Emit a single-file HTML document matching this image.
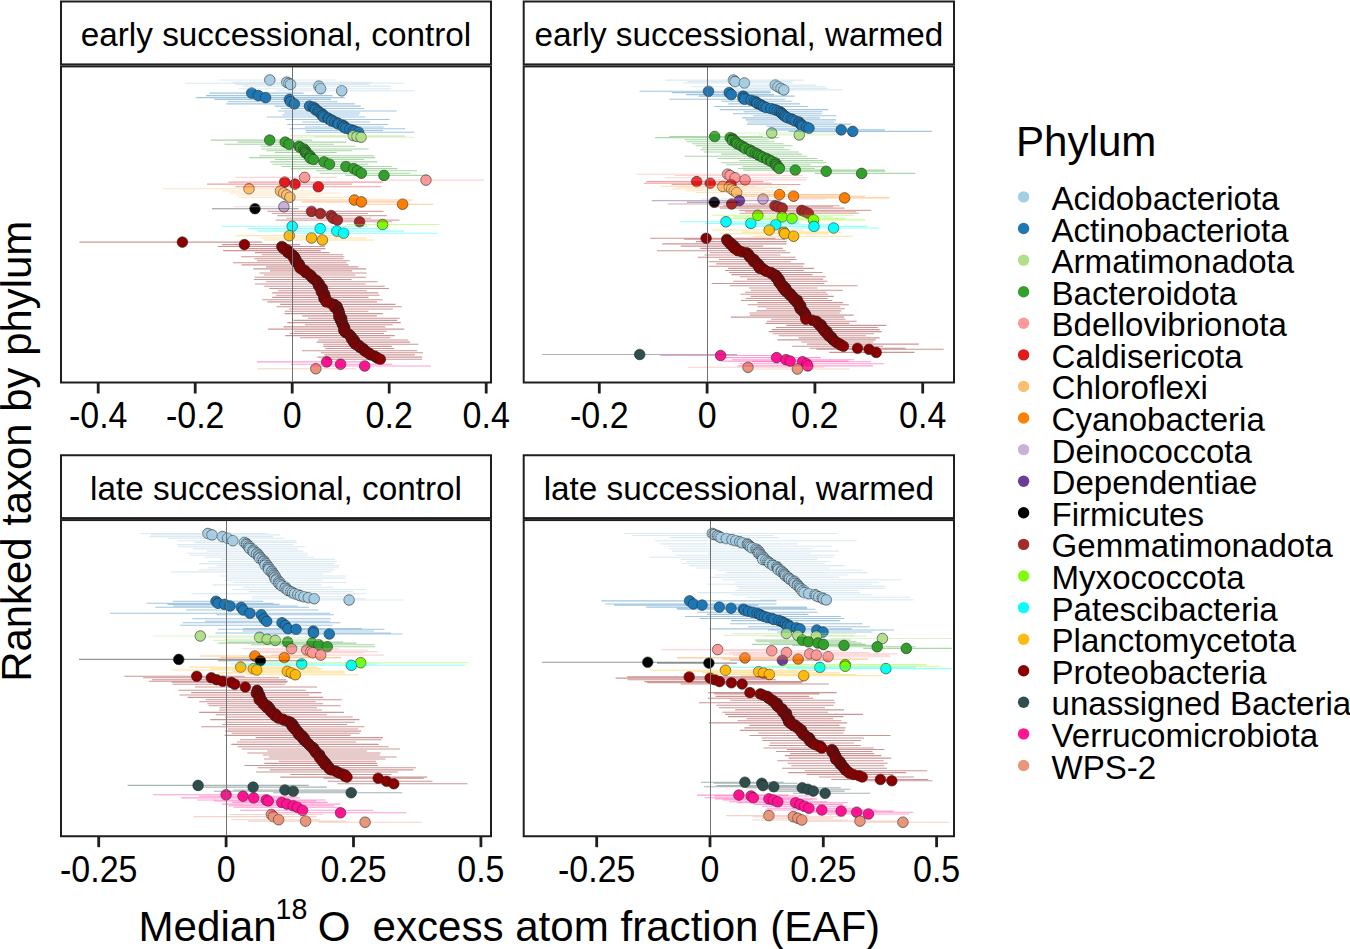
<!DOCTYPE html>
<html><head><meta charset="utf-8"><style>
html,body{margin:0;padding:0;background:#fff;width:1350px;height:949px;overflow:hidden}
svg{display:block}
text{font-family:"Liberation Sans",sans-serif;fill:#000}
.st{font-size:33.3px;text-anchor:middle}
.tk{font-size:34px;text-anchor:middle}
.lg{font-size:33.1px}
.ti{font-size:41.9px;text-anchor:middle}
.ts{font-size:42.1px}
.sup{font-size:28.6px}
</style></head><body>
<svg width="1350" height="949" viewBox="0 0 1350 949">
<defs><clipPath id="c1"><rect x="62" y="67" width="428" height="314.5"/></clipPath><clipPath id="c2"><rect x="524.7" y="67" width="428.29999999999995" height="314.5"/></clipPath><clipPath id="c3"><rect x="62" y="520.9" width="428" height="314.35"/></clipPath><clipPath id="c4"><rect x="524.7" y="520.9" width="428.29999999999995" height="314.35"/></clipPath></defs>
<rect width="1350" height="949" fill="#fff"/>
<g clip-path="url(#c1)"><g stroke="#222" stroke-width="0.6"><circle cx="269.8" cy="80.0" r="5.3" fill="#A6CEE3"/><circle cx="286.7" cy="82.2" r="5.3" fill="#A6CEE3"/><circle cx="288.9" cy="83.3" r="5.3" fill="#A6CEE3"/><circle cx="290.6" cy="84.4" r="5.3" fill="#A6CEE3"/><circle cx="318.9" cy="86.1" r="5.3" fill="#A6CEE3"/><circle cx="320.6" cy="88.7" r="5.3" fill="#A6CEE3"/><circle cx="341.7" cy="90.8" r="5.3" fill="#A6CEE3"/><circle cx="251.7" cy="93.1" r="5.3" fill="#1F78B4"/><circle cx="258.3" cy="95.6" r="5.3" fill="#1F78B4"/><circle cx="265.6" cy="97.6" r="5.3" fill="#1F78B4"/><circle cx="289.4" cy="99.4" r="5.3" fill="#1F78B4"/><circle cx="290.6" cy="101.7" r="5.3" fill="#1F78B4"/><circle cx="294.4" cy="103.9" r="5.3" fill="#1F78B4"/><circle cx="309.5" cy="106.1" r="5.3" fill="#1F78B4"/><circle cx="313.5" cy="107.3" r="5.3" fill="#1F78B4"/><circle cx="315.1" cy="108.5" r="5.3" fill="#1F78B4"/><circle cx="315.4" cy="109.8" r="5.3" fill="#1F78B4"/><circle cx="318.0" cy="111.0" r="5.3" fill="#1F78B4"/><circle cx="319.2" cy="112.2" r="5.3" fill="#1F78B4"/><circle cx="321.3" cy="113.4" r="5.3" fill="#1F78B4"/><circle cx="323.1" cy="114.6" r="5.3" fill="#1F78B4"/><circle cx="322.4" cy="115.8" r="5.3" fill="#1F78B4"/><circle cx="323.6" cy="117.0" r="5.3" fill="#1F78B4"/><circle cx="328.0" cy="118.0" r="5.3" fill="#1F78B4"/><circle cx="328.8" cy="119.0" r="5.3" fill="#1F78B4"/><circle cx="331.8" cy="120.0" r="5.3" fill="#1F78B4"/><circle cx="331.5" cy="121.0" r="5.3" fill="#1F78B4"/><circle cx="334.8" cy="122.0" r="5.3" fill="#1F78B4"/><circle cx="337.7" cy="123.0" r="5.3" fill="#1F78B4"/><circle cx="338.2" cy="124.0" r="5.3" fill="#1F78B4"/><circle cx="342.3" cy="125.0" r="5.3" fill="#1F78B4"/><circle cx="344.2" cy="126.0" r="5.3" fill="#1F78B4"/><circle cx="343.6" cy="127.0" r="5.3" fill="#1F78B4"/><circle cx="345.9" cy="128.2" r="5.3" fill="#1F78B4"/><circle cx="349.8" cy="129.3" r="5.3" fill="#1F78B4"/><circle cx="353.3" cy="130.5" r="5.3" fill="#1F78B4"/><circle cx="355.3" cy="131.3" r="5.3" fill="#1F78B4"/><circle cx="358.5" cy="132.2" r="5.3" fill="#1F78B4"/><circle cx="353.3" cy="135.6" r="5.3" fill="#B2DF8A"/><circle cx="357.0" cy="136.5" r="5.3" fill="#B2DF8A"/><circle cx="361.1" cy="137.2" r="5.3" fill="#B2DF8A"/><circle cx="269.7" cy="140.1" r="5.3" fill="#33A02C"/><circle cx="285.2" cy="142.1" r="5.3" fill="#33A02C"/><circle cx="289.1" cy="144.3" r="5.3" fill="#33A02C"/><circle cx="299.0" cy="146.3" r="5.3" fill="#33A02C"/><circle cx="300.5" cy="147.7" r="5.3" fill="#33A02C"/><circle cx="303.8" cy="149.0" r="5.3" fill="#33A02C"/><circle cx="304.9" cy="150.2" r="5.3" fill="#33A02C"/><circle cx="305.7" cy="151.3" r="5.3" fill="#33A02C"/><circle cx="305.4" cy="152.5" r="5.3" fill="#33A02C"/><circle cx="306.7" cy="153.6" r="5.3" fill="#33A02C"/><circle cx="308.0" cy="154.6" r="5.3" fill="#33A02C"/><circle cx="310.0" cy="155.7" r="5.3" fill="#33A02C"/><circle cx="310.2" cy="157.0" r="5.3" fill="#33A02C"/><circle cx="310.2" cy="158.2" r="5.3" fill="#33A02C"/><circle cx="313.4" cy="159.5" r="5.3" fill="#33A02C"/><circle cx="324.1" cy="161.9" r="5.3" fill="#33A02C"/><circle cx="329.5" cy="164.2" r="5.3" fill="#33A02C"/><circle cx="345.9" cy="166.5" r="5.3" fill="#33A02C"/><circle cx="353.6" cy="168.6" r="5.3" fill="#33A02C"/><circle cx="357.5" cy="170.7" r="5.3" fill="#33A02C"/><circle cx="361.4" cy="173.2" r="5.3" fill="#33A02C"/><circle cx="384.0" cy="175.4" r="5.3" fill="#33A02C"/><circle cx="304.6" cy="177.4" r="5.3" fill="#FB9A99"/><circle cx="426.0" cy="180.1" r="5.3" fill="#FB9A99"/><circle cx="284.7" cy="182.1" r="5.3" fill="#E31A1C"/><circle cx="295.0" cy="184.1" r="5.3" fill="#E31A1C"/><circle cx="318.3" cy="186.8" r="5.3" fill="#E31A1C"/><circle cx="249.0" cy="188.8" r="5.3" fill="#FDBF6F"/><circle cx="280.5" cy="191.0" r="5.3" fill="#FDBF6F"/><circle cx="283.7" cy="193.0" r="5.3" fill="#FDBF6F"/><circle cx="286.8" cy="195.0" r="5.3" fill="#FDBF6F"/><circle cx="289.9" cy="197.2" r="5.3" fill="#FDBF6F"/><circle cx="354.4" cy="200.0" r="5.3" fill="#FF7F00"/><circle cx="361.4" cy="201.9" r="5.3" fill="#FF7F00"/><circle cx="402.6" cy="204.2" r="5.3" fill="#FF7F00"/><circle cx="283.9" cy="206.8" r="5.3" fill="#CAB2D6"/><circle cx="255.0" cy="208.7" r="5.3" fill="#000000"/><circle cx="311.5" cy="211.4" r="5.3" fill="#A52A2A"/><circle cx="320.4" cy="213.5" r="5.3" fill="#A52A2A"/><circle cx="331.2" cy="215.6" r="5.3" fill="#A52A2A"/><circle cx="333.2" cy="218.3" r="5.3" fill="#A52A2A"/><circle cx="337.4" cy="220.1" r="5.3" fill="#A52A2A"/><circle cx="359.6" cy="221.8" r="5.3" fill="#A52A2A"/><circle cx="382.6" cy="224.5" r="5.3" fill="#7FFF00"/><circle cx="292.2" cy="226.3" r="5.3" fill="#00FFFF"/><circle cx="320.2" cy="228.6" r="5.3" fill="#00FFFF"/><circle cx="336.8" cy="231.1" r="5.3" fill="#00FFFF"/><circle cx="343.6" cy="233.2" r="5.3" fill="#00FFFF"/><circle cx="289.3" cy="235.7" r="5.3" fill="#FFB90F"/><circle cx="311.5" cy="238.0" r="5.3" fill="#FFB90F"/><circle cx="322.4" cy="240.0" r="5.3" fill="#FFB90F"/><circle cx="182.4" cy="242.1" r="5.3" fill="#8B0000"/><circle cx="244.4" cy="244.6" r="5.3" fill="#8B0000"/><circle cx="281.8" cy="246.5" r="5.3" fill="#8B0000"/><circle cx="283.5" cy="247.7" r="5.3" fill="#8B0000"/><circle cx="283.5" cy="248.8" r="5.3" fill="#8B0000"/><circle cx="287.4" cy="250.0" r="5.3" fill="#8B0000"/><circle cx="288.5" cy="251.2" r="5.3" fill="#8B0000"/><circle cx="287.7" cy="252.4" r="5.3" fill="#8B0000"/><circle cx="289.8" cy="253.5" r="5.3" fill="#8B0000"/><circle cx="292.4" cy="254.7" r="5.3" fill="#8B0000"/><circle cx="293.1" cy="255.8" r="5.3" fill="#8B0000"/><circle cx="294.5" cy="256.9" r="5.3" fill="#8B0000"/><circle cx="293.7" cy="258.0" r="5.3" fill="#8B0000"/><circle cx="295.7" cy="259.1" r="5.3" fill="#8B0000"/><circle cx="295.9" cy="260.2" r="5.3" fill="#8B0000"/><circle cx="295.6" cy="261.4" r="5.3" fill="#8B0000"/><circle cx="297.2" cy="262.5" r="5.3" fill="#8B0000"/><circle cx="298.8" cy="263.6" r="5.3" fill="#8B0000"/><circle cx="299.4" cy="264.7" r="5.3" fill="#8B0000"/><circle cx="299.2" cy="265.8" r="5.3" fill="#8B0000"/><circle cx="300.2" cy="266.9" r="5.3" fill="#8B0000"/><circle cx="299.9" cy="268.1" r="5.3" fill="#8B0000"/><circle cx="301.9" cy="269.2" r="5.3" fill="#8B0000"/><circle cx="304.9" cy="270.4" r="5.3" fill="#8B0000"/><circle cx="305.2" cy="271.5" r="5.3" fill="#8B0000"/><circle cx="305.8" cy="272.7" r="5.3" fill="#8B0000"/><circle cx="308.4" cy="273.8" r="5.3" fill="#8B0000"/><circle cx="310.2" cy="275.0" r="5.3" fill="#8B0000"/><circle cx="311.3" cy="276.1" r="5.3" fill="#8B0000"/><circle cx="311.7" cy="277.2" r="5.3" fill="#8B0000"/><circle cx="313.1" cy="278.4" r="5.3" fill="#8B0000"/><circle cx="314.5" cy="279.5" r="5.3" fill="#8B0000"/><circle cx="316.6" cy="280.6" r="5.3" fill="#8B0000"/><circle cx="317.0" cy="281.8" r="5.3" fill="#8B0000"/><circle cx="317.9" cy="282.9" r="5.3" fill="#8B0000"/><circle cx="319.4" cy="284.0" r="5.3" fill="#8B0000"/><circle cx="318.4" cy="285.1" r="5.3" fill="#8B0000"/><circle cx="318.8" cy="286.2" r="5.3" fill="#8B0000"/><circle cx="321.2" cy="287.4" r="5.3" fill="#8B0000"/><circle cx="322.5" cy="288.5" r="5.3" fill="#8B0000"/><circle cx="321.7" cy="289.6" r="5.3" fill="#8B0000"/><circle cx="321.5" cy="290.7" r="5.3" fill="#8B0000"/><circle cx="321.3" cy="291.8" r="5.3" fill="#8B0000"/><circle cx="322.7" cy="292.9" r="5.3" fill="#8B0000"/><circle cx="324.5" cy="294.1" r="5.3" fill="#8B0000"/><circle cx="324.3" cy="295.2" r="5.3" fill="#8B0000"/><circle cx="324.0" cy="296.3" r="5.3" fill="#8B0000"/><circle cx="325.4" cy="297.4" r="5.3" fill="#8B0000"/><circle cx="323.9" cy="298.5" r="5.3" fill="#8B0000"/><circle cx="325.1" cy="299.7" r="5.3" fill="#8B0000"/><circle cx="326.9" cy="300.8" r="5.3" fill="#8B0000"/><circle cx="326.1" cy="301.9" r="5.3" fill="#8B0000"/><circle cx="330.3" cy="303.1" r="5.3" fill="#8B0000"/><circle cx="334.2" cy="304.4" r="5.3" fill="#8B0000"/><circle cx="335.5" cy="305.5" r="5.3" fill="#8B0000"/><circle cx="337.1" cy="306.5" r="5.3" fill="#8B0000"/><circle cx="334.7" cy="307.6" r="5.3" fill="#8B0000"/><circle cx="337.5" cy="308.6" r="5.3" fill="#8B0000"/><circle cx="338.1" cy="309.7" r="5.3" fill="#8B0000"/><circle cx="338.7" cy="310.8" r="5.3" fill="#8B0000"/><circle cx="338.7" cy="311.8" r="5.3" fill="#8B0000"/><circle cx="339.3" cy="312.9" r="5.3" fill="#8B0000"/><circle cx="338.9" cy="314.0" r="5.3" fill="#8B0000"/><circle cx="339.5" cy="315.0" r="5.3" fill="#8B0000"/><circle cx="339.5" cy="316.1" r="5.3" fill="#8B0000"/><circle cx="338.8" cy="317.1" r="5.3" fill="#8B0000"/><circle cx="341.7" cy="318.2" r="5.3" fill="#8B0000"/><circle cx="341.2" cy="319.3" r="5.3" fill="#8B0000"/><circle cx="340.5" cy="320.4" r="5.3" fill="#8B0000"/><circle cx="341.8" cy="321.5" r="5.3" fill="#8B0000"/><circle cx="342.2" cy="322.6" r="5.3" fill="#8B0000"/><circle cx="342.2" cy="323.7" r="5.3" fill="#8B0000"/><circle cx="342.6" cy="324.8" r="5.3" fill="#8B0000"/><circle cx="343.6" cy="325.8" r="5.3" fill="#8B0000"/><circle cx="344.2" cy="326.9" r="5.3" fill="#8B0000"/><circle cx="344.6" cy="328.0" r="5.3" fill="#8B0000"/><circle cx="344.6" cy="329.1" r="5.3" fill="#8B0000"/><circle cx="343.7" cy="330.2" r="5.3" fill="#8B0000"/><circle cx="344.7" cy="331.3" r="5.3" fill="#8B0000"/><circle cx="345.5" cy="332.4" r="5.3" fill="#8B0000"/><circle cx="347.7" cy="333.5" r="5.3" fill="#8B0000"/><circle cx="349.4" cy="334.6" r="5.3" fill="#8B0000"/><circle cx="350.2" cy="335.6" r="5.3" fill="#8B0000"/><circle cx="351.1" cy="336.7" r="5.3" fill="#8B0000"/><circle cx="352.1" cy="337.8" r="5.3" fill="#8B0000"/><circle cx="351.4" cy="338.9" r="5.3" fill="#8B0000"/><circle cx="354.1" cy="340.0" r="5.3" fill="#8B0000"/><circle cx="354.6" cy="341.1" r="5.3" fill="#8B0000"/><circle cx="353.7" cy="342.1" r="5.3" fill="#8B0000"/><circle cx="354.5" cy="343.2" r="5.3" fill="#8B0000"/><circle cx="355.4" cy="344.3" r="5.3" fill="#8B0000"/><circle cx="359.1" cy="345.4" r="5.3" fill="#8B0000"/><circle cx="359.1" cy="346.4" r="5.3" fill="#8B0000"/><circle cx="360.1" cy="347.5" r="5.3" fill="#8B0000"/><circle cx="363.2" cy="348.5" r="5.3" fill="#8B0000"/><circle cx="363.8" cy="349.6" r="5.3" fill="#8B0000"/><circle cx="364.4" cy="350.7" r="5.3" fill="#8B0000"/><circle cx="366.2" cy="351.7" r="5.3" fill="#8B0000"/><circle cx="368.7" cy="352.8" r="5.3" fill="#8B0000"/><circle cx="369.1" cy="353.8" r="5.3" fill="#8B0000"/><circle cx="370.9" cy="354.9" r="5.3" fill="#8B0000"/><circle cx="374.5" cy="356.0" r="5.3" fill="#8B0000"/><circle cx="375.9" cy="357.1" r="5.3" fill="#8B0000"/><circle cx="377.7" cy="358.2" r="5.3" fill="#8B0000"/><circle cx="380.4" cy="359.3" r="5.3" fill="#8B0000"/><circle cx="326.7" cy="361.9" r="5.3" fill="#FF1493"/><circle cx="340.6" cy="364.2" r="5.3" fill="#FF1493"/><circle cx="364.7" cy="366.0" r="5.3" fill="#FF1493"/><circle cx="315.8" cy="368.7" r="5.3" fill="#E9967A"/></g><g stroke-width="1.1" stroke-opacity="0.42"><line x1="218.9" y1="80.0" x2="335.3" y2="80.0" stroke="#A6CEE3"/><line x1="232.3" y1="82.2" x2="372.7" y2="82.2" stroke="#A6CEE3"/><line x1="185.0" y1="83.3" x2="404.7" y2="83.3" stroke="#A6CEE3"/><line x1="234.7" y1="84.4" x2="369.4" y2="84.4" stroke="#A6CEE3"/><line x1="241.8" y1="86.1" x2="390.7" y2="86.1" stroke="#A6CEE3"/><line x1="238.7" y1="88.7" x2="391.3" y2="88.7" stroke="#A6CEE3"/><line x1="275.9" y1="90.8" x2="414.7" y2="90.8" stroke="#A6CEE3"/><line x1="209.3" y1="93.1" x2="303.6" y2="93.1" stroke="#1F78B4"/><line x1="206.0" y1="95.6" x2="332.6" y2="95.6" stroke="#1F78B4"/><line x1="195.8" y1="97.6" x2="344.9" y2="97.6" stroke="#1F78B4"/><line x1="214.3" y1="99.4" x2="330.9" y2="99.4" stroke="#1F78B4"/><line x1="227.8" y1="101.7" x2="337.5" y2="101.7" stroke="#1F78B4"/><line x1="226.2" y1="103.9" x2="354.8" y2="103.9" stroke="#1F78B4"/><line x1="274.4" y1="106.1" x2="360.8" y2="106.1" stroke="#1F78B4"/><line x1="281.2" y1="108.5" x2="364.3" y2="108.5" stroke="#1F78B4"/><line x1="278.2" y1="111.0" x2="396.6" y2="111.0" stroke="#1F78B4"/><line x1="284.3" y1="113.0" x2="360.2" y2="113.0" stroke="#1F78B4"/><line x1="282.5" y1="115.0" x2="359.1" y2="115.0" stroke="#1F78B4"/><line x1="267.0" y1="117.0" x2="365.3" y2="117.0" stroke="#1F78B4"/><line x1="285.5" y1="119.5" x2="389.6" y2="119.5" stroke="#1F78B4"/><line x1="302.5" y1="122.0" x2="370.1" y2="122.0" stroke="#1F78B4"/><line x1="287.2" y1="124.5" x2="388.0" y2="124.5" stroke="#1F78B4"/><line x1="304.8" y1="127.0" x2="383.7" y2="127.0" stroke="#1F78B4"/><line x1="289.9" y1="128.8" x2="405.1" y2="128.8" stroke="#1F78B4"/><line x1="305.6" y1="130.5" x2="383.2" y2="130.5" stroke="#1F78B4"/><line x1="305.8" y1="132.2" x2="414.3" y2="132.2" stroke="#1F78B4"/><line x1="289.8" y1="135.6" x2="404.6" y2="135.6" stroke="#B2DF8A"/><line x1="314.5" y1="136.5" x2="405.0" y2="136.5" stroke="#B2DF8A"/><line x1="293.3" y1="137.2" x2="414.8" y2="137.2" stroke="#B2DF8A"/><line x1="210.7" y1="140.1" x2="312.3" y2="140.1" stroke="#33A02C"/><line x1="237.6" y1="142.1" x2="346.2" y2="142.1" stroke="#33A02C"/><line x1="224.5" y1="144.3" x2="333.8" y2="144.3" stroke="#33A02C"/><line x1="260.8" y1="146.3" x2="355.2" y2="146.3" stroke="#33A02C"/><line x1="261.4" y1="149.0" x2="368.6" y2="149.0" stroke="#33A02C"/><line x1="266.5" y1="150.8" x2="352.1" y2="150.8" stroke="#33A02C"/><line x1="274.8" y1="152.5" x2="336.6" y2="152.5" stroke="#33A02C"/><line x1="259.2" y1="155.7" x2="374.1" y2="155.7" stroke="#33A02C"/><line x1="249.3" y1="157.6" x2="375.2" y2="157.6" stroke="#33A02C"/><line x1="274.9" y1="159.5" x2="364.0" y2="159.5" stroke="#33A02C"/><line x1="270.0" y1="161.9" x2="377.3" y2="161.9" stroke="#33A02C"/><line x1="272.4" y1="164.2" x2="368.1" y2="164.2" stroke="#33A02C"/><line x1="281.5" y1="166.5" x2="391.6" y2="166.5" stroke="#33A02C"/><line x1="290.7" y1="168.6" x2="397.3" y2="168.6" stroke="#33A02C"/><line x1="316.4" y1="170.7" x2="417.1" y2="170.7" stroke="#33A02C"/><line x1="319.7" y1="173.2" x2="410.4" y2="173.2" stroke="#33A02C"/><line x1="345.4" y1="175.4" x2="427.0" y2="175.4" stroke="#33A02C"/><line x1="235.6" y1="177.4" x2="337.1" y2="177.4" stroke="#FB9A99"/><line x1="385.8" y1="180.1" x2="483.7" y2="180.1" stroke="#FB9A99"/><line x1="228.5" y1="182.1" x2="382.8" y2="182.1" stroke="#E31A1C"/><line x1="207.0" y1="184.1" x2="351.9" y2="184.1" stroke="#E31A1C"/><line x1="235.4" y1="186.8" x2="381.1" y2="186.8" stroke="#E31A1C"/><line x1="163.0" y1="188.8" x2="300.0" y2="188.8" stroke="#FDBF6F"/><line x1="223.2" y1="191.0" x2="311.5" y2="191.0" stroke="#FDBF6F"/><line x1="229.6" y1="193.0" x2="340.9" y2="193.0" stroke="#FDBF6F"/><line x1="236.1" y1="195.0" x2="322.1" y2="195.0" stroke="#FDBF6F"/><line x1="238.5" y1="197.2" x2="359.9" y2="197.2" stroke="#FDBF6F"/><line x1="290.7" y1="200.0" x2="412.7" y2="200.0" stroke="#FF7F00"/><line x1="301.6" y1="201.9" x2="407.3" y2="201.9" stroke="#FF7F00"/><line x1="363.6" y1="204.2" x2="433.5" y2="204.2" stroke="#FF7F00"/><line x1="233.9" y1="206.8" x2="316.1" y2="206.8" stroke="#CAB2D6"/><line x1="212.0" y1="208.7" x2="298.6" y2="208.7" stroke="#000000"/><line x1="267.5" y1="211.4" x2="383.5" y2="211.4" stroke="#A52A2A"/><line x1="271.9" y1="213.5" x2="367.9" y2="213.5" stroke="#A52A2A"/><line x1="277.2" y1="215.6" x2="386.8" y2="215.6" stroke="#A52A2A"/><line x1="286.4" y1="218.3" x2="371.1" y2="218.3" stroke="#A52A2A"/><line x1="275.7" y1="220.1" x2="399.5" y2="220.1" stroke="#A52A2A"/><line x1="327.9" y1="221.8" x2="392.1" y2="221.8" stroke="#A52A2A"/><line x1="347.0" y1="224.5" x2="439.4" y2="224.5" stroke="#7FFF00"/><line x1="221.4" y1="226.3" x2="367.7" y2="226.3" stroke="#00FFFF"/><line x1="248.1" y1="228.6" x2="388.0" y2="228.6" stroke="#00FFFF"/><line x1="258.0" y1="231.1" x2="403.9" y2="231.1" stroke="#00FFFF"/><line x1="287.1" y1="233.2" x2="437.5" y2="233.2" stroke="#00FFFF"/><line x1="235.4" y1="235.7" x2="344.4" y2="235.7" stroke="#FFB90F"/><line x1="261.4" y1="238.0" x2="367.0" y2="238.0" stroke="#FFB90F"/><line x1="264.1" y1="240.0" x2="374.4" y2="240.0" stroke="#FFB90F"/><line x1="79.5" y1="242.1" x2="262.0" y2="242.1" stroke="#8B0000"/><line x1="222.0" y1="244.6" x2="300.0" y2="244.6" stroke="#8B0000"/><line x1="217.6" y1="246.5" x2="325.0" y2="246.5" stroke="#8B0000"/><line x1="248.4" y1="248.6" x2="325.5" y2="248.6" stroke="#8B0000"/><line x1="223.1" y1="250.6" x2="320.8" y2="250.6" stroke="#8B0000"/><line x1="255.0" y1="252.6" x2="329.5" y2="252.6" stroke="#8B0000"/><line x1="261.6" y1="254.7" x2="343.0" y2="254.7" stroke="#8B0000"/><line x1="241.1" y1="256.7" x2="344.3" y2="256.7" stroke="#8B0000"/><line x1="254.5" y1="258.8" x2="343.4" y2="258.8" stroke="#8B0000"/><line x1="257.0" y1="260.8" x2="349.7" y2="260.8" stroke="#8B0000"/><line x1="233.1" y1="262.8" x2="346.3" y2="262.8" stroke="#8B0000"/><line x1="241.6" y1="264.9" x2="348.5" y2="264.9" stroke="#8B0000"/><line x1="266.1" y1="266.9" x2="358.2" y2="266.9" stroke="#8B0000"/><line x1="253.2" y1="268.9" x2="366.1" y2="268.9" stroke="#8B0000"/><line x1="270.0" y1="270.9" x2="352.3" y2="270.9" stroke="#8B0000"/><line x1="259.6" y1="273.0" x2="366.7" y2="273.0" stroke="#8B0000"/><line x1="264.1" y1="275.0" x2="355.3" y2="275.0" stroke="#8B0000"/><line x1="254.6" y1="277.2" x2="366.0" y2="277.2" stroke="#8B0000"/><line x1="254.0" y1="279.5" x2="351.6" y2="279.5" stroke="#8B0000"/><line x1="266.0" y1="281.8" x2="377.8" y2="281.8" stroke="#8B0000"/><line x1="254.9" y1="284.0" x2="365.6" y2="284.0" stroke="#8B0000"/><line x1="264.2" y1="286.2" x2="384.8" y2="286.2" stroke="#8B0000"/><line x1="269.3" y1="288.5" x2="389.0" y2="288.5" stroke="#8B0000"/><line x1="278.2" y1="290.7" x2="366.7" y2="290.7" stroke="#8B0000"/><line x1="272.2" y1="292.9" x2="378.3" y2="292.9" stroke="#8B0000"/><line x1="276.2" y1="295.2" x2="379.6" y2="295.2" stroke="#8B0000"/><line x1="272.2" y1="297.4" x2="368.5" y2="297.4" stroke="#8B0000"/><line x1="262.3" y1="299.7" x2="382.5" y2="299.7" stroke="#8B0000"/><line x1="267.4" y1="301.9" x2="377.1" y2="301.9" stroke="#8B0000"/><line x1="280.1" y1="304.4" x2="395.5" y2="304.4" stroke="#8B0000"/><line x1="276.7" y1="306.7" x2="401.6" y2="306.7" stroke="#8B0000"/><line x1="288.9" y1="309.0" x2="392.9" y2="309.0" stroke="#8B0000"/><line x1="284.8" y1="311.3" x2="368.4" y2="311.3" stroke="#8B0000"/><line x1="284.5" y1="313.6" x2="382.8" y2="313.6" stroke="#8B0000"/><line x1="302.3" y1="315.9" x2="376.9" y2="315.9" stroke="#8B0000"/><line x1="308.0" y1="318.2" x2="399.7" y2="318.2" stroke="#8B0000"/><line x1="293.5" y1="320.4" x2="397.2" y2="320.4" stroke="#8B0000"/><line x1="287.3" y1="322.6" x2="400.8" y2="322.6" stroke="#8B0000"/><line x1="304.9" y1="324.8" x2="392.7" y2="324.8" stroke="#8B0000"/><line x1="283.5" y1="326.9" x2="385.4" y2="326.9" stroke="#8B0000"/><line x1="268.1" y1="329.1" x2="404.2" y2="329.1" stroke="#8B0000"/><line x1="293.7" y1="331.3" x2="386.6" y2="331.3" stroke="#8B0000"/><line x1="289.9" y1="333.5" x2="384.0" y2="333.5" stroke="#8B0000"/><line x1="285.2" y1="335.6" x2="394.8" y2="335.6" stroke="#8B0000"/><line x1="300.0" y1="337.8" x2="390.4" y2="337.8" stroke="#8B0000"/><line x1="318.3" y1="340.0" x2="408.2" y2="340.0" stroke="#8B0000"/><line x1="316.6" y1="342.1" x2="410.1" y2="342.1" stroke="#8B0000"/><line x1="323.2" y1="344.3" x2="418.4" y2="344.3" stroke="#8B0000"/><line x1="323.3" y1="346.4" x2="391.8" y2="346.4" stroke="#8B0000"/><line x1="325.2" y1="348.5" x2="394.0" y2="348.5" stroke="#8B0000"/><line x1="302.0" y1="350.7" x2="417.2" y2="350.7" stroke="#8B0000"/><line x1="320.9" y1="352.8" x2="422.9" y2="352.8" stroke="#8B0000"/><line x1="324.3" y1="354.9" x2="414.8" y2="354.9" stroke="#8B0000"/><line x1="317.3" y1="357.1" x2="422.2" y2="357.1" stroke="#8B0000"/><line x1="325.5" y1="359.3" x2="422.1" y2="359.3" stroke="#8B0000"/><line x1="256.9" y1="361.9" x2="368.1" y2="361.9" stroke="#FF1493"/><line x1="291.0" y1="364.2" x2="392.1" y2="364.2" stroke="#FF1493"/><line x1="312.7" y1="366.0" x2="431.1" y2="366.0" stroke="#FF1493"/><line x1="257.5" y1="368.7" x2="356.1" y2="368.7" stroke="#E9967A"/></g><line x1="292.5" y1="67" x2="292.5" y2="381.5" stroke="#707070" stroke-width="1"/></g><g clip-path="url(#c2)"><g stroke="#222" stroke-width="0.6"><circle cx="733.4" cy="80.1" r="5.3" fill="#A6CEE3"/><circle cx="735.0" cy="81.6" r="5.3" fill="#A6CEE3"/><circle cx="744.4" cy="83.0" r="5.3" fill="#A6CEE3"/><circle cx="775.3" cy="85.1" r="5.3" fill="#A6CEE3"/><circle cx="778.0" cy="86.7" r="5.3" fill="#A6CEE3"/><circle cx="781.0" cy="88.4" r="5.3" fill="#A6CEE3"/><circle cx="783.8" cy="89.9" r="5.3" fill="#A6CEE3"/><circle cx="708.5" cy="91.3" r="5.3" fill="#1F78B4"/><circle cx="729.2" cy="92.6" r="5.3" fill="#1F78B4"/><circle cx="731.3" cy="94.6" r="5.3" fill="#1F78B4"/><circle cx="743.1" cy="96.1" r="5.3" fill="#1F78B4"/><circle cx="744.4" cy="97.1" r="5.3" fill="#1F78B4"/><circle cx="743.1" cy="98.2" r="5.3" fill="#1F78B4"/><circle cx="744.6" cy="99.2" r="5.3" fill="#1F78B4"/><circle cx="751.0" cy="100.2" r="5.3" fill="#1F78B4"/><circle cx="754.8" cy="101.3" r="5.3" fill="#1F78B4"/><circle cx="756.5" cy="102.3" r="5.3" fill="#1F78B4"/><circle cx="757.2" cy="103.4" r="5.3" fill="#1F78B4"/><circle cx="760.0" cy="104.4" r="5.3" fill="#1F78B4"/><circle cx="761.9" cy="105.5" r="5.3" fill="#1F78B4"/><circle cx="763.6" cy="106.5" r="5.3" fill="#1F78B4"/><circle cx="766.2" cy="107.5" r="5.3" fill="#1F78B4"/><circle cx="770.9" cy="108.6" r="5.3" fill="#1F78B4"/><circle cx="774.6" cy="109.6" r="5.3" fill="#1F78B4"/><circle cx="777.3" cy="110.6" r="5.3" fill="#1F78B4"/><circle cx="779.8" cy="111.7" r="5.3" fill="#1F78B4"/><circle cx="781.4" cy="112.7" r="5.3" fill="#1F78B4"/><circle cx="781.9" cy="113.7" r="5.3" fill="#1F78B4"/><circle cx="783.3" cy="114.8" r="5.3" fill="#1F78B4"/><circle cx="784.5" cy="115.8" r="5.3" fill="#1F78B4"/><circle cx="785.9" cy="116.8" r="5.3" fill="#1F78B4"/><circle cx="787.9" cy="117.9" r="5.3" fill="#1F78B4"/><circle cx="791.3" cy="118.9" r="5.3" fill="#1F78B4"/><circle cx="793.0" cy="119.9" r="5.3" fill="#1F78B4"/><circle cx="795.3" cy="121.0" r="5.3" fill="#1F78B4"/><circle cx="798.9" cy="122.0" r="5.3" fill="#1F78B4"/><circle cx="799.3" cy="123.0" r="5.3" fill="#1F78B4"/><circle cx="801.0" cy="124.1" r="5.3" fill="#1F78B4"/><circle cx="801.6" cy="125.2" r="5.3" fill="#1F78B4"/><circle cx="802.5" cy="126.2" r="5.3" fill="#1F78B4"/><circle cx="806.5" cy="127.2" r="5.3" fill="#1F78B4"/><circle cx="809.0" cy="128.2" r="5.3" fill="#1F78B4"/><circle cx="841.2" cy="129.9" r="5.3" fill="#1F78B4"/><circle cx="852.7" cy="131.4" r="5.3" fill="#1F78B4"/><circle cx="771.7" cy="133.0" r="5.3" fill="#B2DF8A"/><circle cx="799.3" cy="134.9" r="5.3" fill="#B2DF8A"/><circle cx="714.7" cy="136.5" r="5.3" fill="#33A02C"/><circle cx="730.2" cy="137.6" r="5.3" fill="#33A02C"/><circle cx="732.7" cy="138.6" r="5.3" fill="#33A02C"/><circle cx="732.8" cy="139.7" r="5.3" fill="#33A02C"/><circle cx="732.4" cy="140.7" r="5.3" fill="#33A02C"/><circle cx="735.6" cy="141.7" r="5.3" fill="#33A02C"/><circle cx="736.3" cy="142.8" r="5.3" fill="#33A02C"/><circle cx="737.2" cy="143.8" r="5.3" fill="#33A02C"/><circle cx="740.0" cy="145.0" r="5.3" fill="#33A02C"/><circle cx="741.9" cy="146.2" r="5.3" fill="#33A02C"/><circle cx="744.3" cy="147.4" r="5.3" fill="#33A02C"/><circle cx="745.3" cy="148.6" r="5.3" fill="#33A02C"/><circle cx="749.4" cy="149.8" r="5.3" fill="#33A02C"/><circle cx="751.6" cy="150.9" r="5.3" fill="#33A02C"/><circle cx="751.3" cy="152.0" r="5.3" fill="#33A02C"/><circle cx="755.3" cy="153.1" r="5.3" fill="#33A02C"/><circle cx="757.3" cy="154.1" r="5.3" fill="#33A02C"/><circle cx="758.7" cy="155.2" r="5.3" fill="#33A02C"/><circle cx="761.1" cy="156.3" r="5.3" fill="#33A02C"/><circle cx="763.2" cy="157.4" r="5.3" fill="#33A02C"/><circle cx="766.6" cy="158.5" r="5.3" fill="#33A02C"/><circle cx="767.6" cy="159.6" r="5.3" fill="#33A02C"/><circle cx="770.7" cy="160.6" r="5.3" fill="#33A02C"/><circle cx="771.5" cy="161.7" r="5.3" fill="#33A02C"/><circle cx="775.2" cy="162.8" r="5.3" fill="#33A02C"/><circle cx="776.2" cy="163.9" r="5.3" fill="#33A02C"/><circle cx="775.8" cy="165.1" r="5.3" fill="#33A02C"/><circle cx="777.0" cy="166.2" r="5.3" fill="#33A02C"/><circle cx="779.0" cy="167.4" r="5.3" fill="#33A02C"/><circle cx="779.3" cy="168.5" r="5.3" fill="#33A02C"/><circle cx="795.3" cy="170.1" r="5.3" fill="#33A02C"/><circle cx="826.2" cy="171.3" r="5.3" fill="#33A02C"/><circle cx="861.6" cy="173.4" r="5.3" fill="#33A02C"/><circle cx="727.6" cy="174.2" r="5.3" fill="#FB9A99"/><circle cx="730.1" cy="175.5" r="5.3" fill="#FB9A99"/><circle cx="735.0" cy="177.8" r="5.3" fill="#FB9A99"/><circle cx="745.1" cy="179.9" r="5.3" fill="#FB9A99"/><circle cx="696.7" cy="181.6" r="5.3" fill="#E31A1C"/><circle cx="710.2" cy="183.2" r="5.3" fill="#E31A1C"/><circle cx="730.9" cy="184.5" r="5.3" fill="#E31A1C"/><circle cx="722.7" cy="186.4" r="5.3" fill="#FDBF6F"/><circle cx="729.3" cy="187.3" r="5.3" fill="#FDBF6F"/><circle cx="731.7" cy="188.9" r="5.3" fill="#FDBF6F"/><circle cx="734.2" cy="190.8" r="5.3" fill="#FDBF6F"/><circle cx="736.6" cy="192.5" r="5.3" fill="#FDBF6F"/><circle cx="779.5" cy="194.6" r="5.3" fill="#FF7F00"/><circle cx="793.6" cy="196.2" r="5.3" fill="#FF7F00"/><circle cx="844.6" cy="197.9" r="5.3" fill="#FF7F00"/><circle cx="763.0" cy="199.0" r="5.3" fill="#CAB2D6"/><circle cx="739.4" cy="200.6" r="5.3" fill="#6A3D9A"/><circle cx="714.3" cy="202.3" r="5.3" fill="#000000"/><circle cx="731.7" cy="204.0" r="5.3" fill="#A52A2A"/><circle cx="774.9" cy="205.7" r="5.3" fill="#A52A2A"/><circle cx="778.2" cy="206.8" r="5.3" fill="#A52A2A"/><circle cx="782.2" cy="208.1" r="5.3" fill="#A52A2A"/><circle cx="801.8" cy="210.4" r="5.3" fill="#A52A2A"/><circle cx="805.0" cy="211.7" r="5.3" fill="#A52A2A"/><circle cx="808.3" cy="213.3" r="5.3" fill="#A52A2A"/><circle cx="757.8" cy="215.3" r="5.3" fill="#7FFF00"/><circle cx="782.2" cy="216.9" r="5.3" fill="#7FFF00"/><circle cx="792.0" cy="218.6" r="5.3" fill="#7FFF00"/><circle cx="813.5" cy="219.9" r="5.3" fill="#7FFF00"/><circle cx="726.0" cy="221.8" r="5.3" fill="#00FFFF"/><circle cx="750.8" cy="223.4" r="5.3" fill="#00FFFF"/><circle cx="775.7" cy="224.7" r="5.3" fill="#00FFFF"/><circle cx="814.0" cy="226.4" r="5.3" fill="#00FFFF"/><circle cx="833.6" cy="228.0" r="5.3" fill="#00FFFF"/><circle cx="769.2" cy="230.0" r="5.3" fill="#FFB90F"/><circle cx="783.9" cy="232.1" r="5.3" fill="#FFB90F"/><circle cx="784.7" cy="233.7" r="5.3" fill="#FFB90F"/><circle cx="793.6" cy="236.2" r="5.3" fill="#FFB90F"/><circle cx="706.1" cy="238.3" r="5.3" fill="#8B0000"/><circle cx="726.8" cy="239.3" r="5.3" fill="#8B0000"/><circle cx="727.0" cy="240.4" r="5.3" fill="#8B0000"/><circle cx="728.4" cy="241.6" r="5.3" fill="#8B0000"/><circle cx="730.5" cy="242.7" r="5.3" fill="#8B0000"/><circle cx="730.0" cy="243.9" r="5.3" fill="#8B0000"/><circle cx="733.2" cy="245.0" r="5.3" fill="#8B0000"/><circle cx="732.3" cy="246.1" r="5.3" fill="#8B0000"/><circle cx="735.3" cy="247.3" r="5.3" fill="#8B0000"/><circle cx="734.5" cy="248.4" r="5.3" fill="#8B0000"/><circle cx="737.5" cy="249.6" r="5.3" fill="#8B0000"/><circle cx="737.8" cy="250.7" r="5.3" fill="#8B0000"/><circle cx="741.9" cy="251.8" r="5.3" fill="#8B0000"/><circle cx="746.7" cy="252.8" r="5.3" fill="#8B0000"/><circle cx="748.1" cy="253.9" r="5.3" fill="#8B0000"/><circle cx="748.9" cy="255.0" r="5.3" fill="#8B0000"/><circle cx="749.1" cy="256.1" r="5.3" fill="#8B0000"/><circle cx="749.9" cy="257.3" r="5.3" fill="#8B0000"/><circle cx="751.8" cy="258.4" r="5.3" fill="#8B0000"/><circle cx="754.1" cy="259.5" r="5.3" fill="#8B0000"/><circle cx="754.2" cy="260.6" r="5.3" fill="#8B0000"/><circle cx="753.6" cy="261.7" r="5.3" fill="#8B0000"/><circle cx="756.9" cy="262.8" r="5.3" fill="#8B0000"/><circle cx="757.6" cy="263.9" r="5.3" fill="#8B0000"/><circle cx="759.2" cy="265.1" r="5.3" fill="#8B0000"/><circle cx="758.1" cy="266.2" r="5.3" fill="#8B0000"/><circle cx="760.8" cy="267.3" r="5.3" fill="#8B0000"/><circle cx="759.8" cy="268.4" r="5.3" fill="#8B0000"/><circle cx="763.8" cy="269.4" r="5.3" fill="#8B0000"/><circle cx="764.9" cy="270.5" r="5.3" fill="#8B0000"/><circle cx="767.0" cy="271.5" r="5.3" fill="#8B0000"/><circle cx="771.2" cy="272.5" r="5.3" fill="#8B0000"/><circle cx="771.2" cy="273.6" r="5.3" fill="#8B0000"/><circle cx="774.7" cy="274.6" r="5.3" fill="#8B0000"/><circle cx="776.5" cy="275.7" r="5.3" fill="#8B0000"/><circle cx="775.5" cy="276.8" r="5.3" fill="#8B0000"/><circle cx="776.2" cy="277.9" r="5.3" fill="#8B0000"/><circle cx="779.0" cy="279.1" r="5.3" fill="#8B0000"/><circle cx="778.4" cy="280.2" r="5.3" fill="#8B0000"/><circle cx="780.1" cy="281.3" r="5.3" fill="#8B0000"/><circle cx="778.9" cy="282.4" r="5.3" fill="#8B0000"/><circle cx="780.7" cy="283.5" r="5.3" fill="#8B0000"/><circle cx="780.9" cy="284.6" r="5.3" fill="#8B0000"/><circle cx="783.3" cy="285.7" r="5.3" fill="#8B0000"/><circle cx="782.3" cy="286.9" r="5.3" fill="#8B0000"/><circle cx="785.7" cy="288.0" r="5.3" fill="#8B0000"/><circle cx="783.8" cy="289.1" r="5.3" fill="#8B0000"/><circle cx="786.7" cy="290.2" r="5.3" fill="#8B0000"/><circle cx="785.7" cy="291.3" r="5.3" fill="#8B0000"/><circle cx="787.5" cy="292.5" r="5.3" fill="#8B0000"/><circle cx="790.3" cy="293.6" r="5.3" fill="#8B0000"/><circle cx="789.5" cy="294.7" r="5.3" fill="#8B0000"/><circle cx="790.7" cy="295.8" r="5.3" fill="#8B0000"/><circle cx="793.3" cy="297.0" r="5.3" fill="#8B0000"/><circle cx="793.5" cy="298.1" r="5.3" fill="#8B0000"/><circle cx="793.6" cy="299.2" r="5.3" fill="#8B0000"/><circle cx="797.6" cy="300.3" r="5.3" fill="#8B0000"/><circle cx="796.2" cy="301.5" r="5.3" fill="#8B0000"/><circle cx="797.0" cy="302.6" r="5.3" fill="#8B0000"/><circle cx="798.5" cy="303.7" r="5.3" fill="#8B0000"/><circle cx="799.9" cy="304.8" r="5.3" fill="#8B0000"/><circle cx="800.8" cy="305.9" r="5.3" fill="#8B0000"/><circle cx="799.5" cy="307.0" r="5.3" fill="#8B0000"/><circle cx="800.7" cy="308.1" r="5.3" fill="#8B0000"/><circle cx="800.3" cy="309.2" r="5.3" fill="#8B0000"/><circle cx="802.1" cy="310.3" r="5.3" fill="#8B0000"/><circle cx="803.6" cy="311.5" r="5.3" fill="#8B0000"/><circle cx="804.1" cy="312.6" r="5.3" fill="#8B0000"/><circle cx="805.1" cy="313.7" r="5.3" fill="#8B0000"/><circle cx="805.3" cy="314.8" r="5.3" fill="#8B0000"/><circle cx="806.1" cy="315.9" r="5.3" fill="#8B0000"/><circle cx="806.2" cy="317.0" r="5.3" fill="#8B0000"/><circle cx="806.1" cy="318.1" r="5.3" fill="#8B0000"/><circle cx="805.9" cy="319.2" r="5.3" fill="#8B0000"/><circle cx="812.4" cy="320.2" r="5.3" fill="#8B0000"/><circle cx="816.5" cy="321.3" r="5.3" fill="#8B0000"/><circle cx="816.9" cy="322.4" r="5.3" fill="#8B0000"/><circle cx="818.8" cy="323.6" r="5.3" fill="#8B0000"/><circle cx="821.1" cy="324.7" r="5.3" fill="#8B0000"/><circle cx="819.8" cy="325.8" r="5.3" fill="#8B0000"/><circle cx="822.1" cy="326.9" r="5.3" fill="#8B0000"/><circle cx="822.5" cy="328.1" r="5.3" fill="#8B0000"/><circle cx="823.8" cy="329.2" r="5.3" fill="#8B0000"/><circle cx="823.6" cy="330.3" r="5.3" fill="#8B0000"/><circle cx="827.0" cy="331.4" r="5.3" fill="#8B0000"/><circle cx="825.8" cy="332.6" r="5.3" fill="#8B0000"/><circle cx="827.8" cy="333.7" r="5.3" fill="#8B0000"/><circle cx="828.6" cy="334.8" r="5.3" fill="#8B0000"/><circle cx="828.7" cy="336.0" r="5.3" fill="#8B0000"/><circle cx="831.6" cy="337.1" r="5.3" fill="#8B0000"/><circle cx="831.7" cy="338.2" r="5.3" fill="#8B0000"/><circle cx="832.8" cy="339.4" r="5.3" fill="#8B0000"/><circle cx="834.0" cy="340.5" r="5.3" fill="#8B0000"/><circle cx="835.7" cy="341.7" r="5.3" fill="#8B0000"/><circle cx="836.8" cy="342.8" r="5.3" fill="#8B0000"/><circle cx="839.8" cy="343.9" r="5.3" fill="#8B0000"/><circle cx="840.7" cy="345.1" r="5.3" fill="#8B0000"/><circle cx="843.5" cy="346.2" r="5.3" fill="#8B0000"/><circle cx="857.5" cy="348.3" r="5.3" fill="#8B0000"/><circle cx="869.0" cy="349.3" r="5.3" fill="#8B0000"/><circle cx="876.2" cy="352.4" r="5.3" fill="#8B0000"/><circle cx="639.7" cy="354.5" r="5.3" fill="#2F4F4F"/><circle cx="720.6" cy="355.5" r="5.3" fill="#FF1493"/><circle cx="776.6" cy="357.6" r="5.3" fill="#FF1493"/><circle cx="786.0" cy="359.7" r="5.3" fill="#FF1493"/><circle cx="790.1" cy="361.1" r="5.3" fill="#FF1493"/><circle cx="802.6" cy="361.7" r="5.3" fill="#FF1493"/><circle cx="806.7" cy="363.8" r="5.3" fill="#FF1493"/><circle cx="807.8" cy="365.9" r="5.3" fill="#FF1493"/><circle cx="748.0" cy="367.3" r="5.3" fill="#E9967A"/><circle cx="797.4" cy="369.0" r="5.3" fill="#E9967A"/></g><g stroke-width="1.1" stroke-opacity="0.42"><line x1="665.4" y1="80.1" x2="803.2" y2="80.1" stroke="#A6CEE3"/><line x1="687.5" y1="81.6" x2="792.7" y2="81.6" stroke="#A6CEE3"/><line x1="683.1" y1="83.0" x2="792.1" y2="83.0" stroke="#A6CEE3"/><line x1="735.2" y1="85.1" x2="816.4" y2="85.1" stroke="#A6CEE3"/><line x1="691.6" y1="86.7" x2="825.2" y2="86.7" stroke="#A6CEE3"/><line x1="734.1" y1="88.4" x2="827.5" y2="88.4" stroke="#A6CEE3"/><line x1="734.5" y1="89.9" x2="843.1" y2="89.9" stroke="#A6CEE3"/><line x1="639.6" y1="91.3" x2="770.4" y2="91.3" stroke="#1F78B4"/><line x1="671.8" y1="92.6" x2="770.7" y2="92.6" stroke="#1F78B4"/><line x1="685.9" y1="94.6" x2="774.1" y2="94.6" stroke="#1F78B4"/><line x1="698.7" y1="96.1" x2="794.7" y2="96.1" stroke="#1F78B4"/><line x1="669.4" y1="99.2" x2="785.1" y2="99.2" stroke="#1F78B4"/><line x1="721.6" y1="101.3" x2="791.7" y2="101.3" stroke="#1F78B4"/><line x1="728.4" y1="103.9" x2="800.0" y2="103.9" stroke="#1F78B4"/><line x1="714.1" y1="106.5" x2="808.1" y2="106.5" stroke="#1F78B4"/><line x1="719.8" y1="109.6" x2="828.3" y2="109.6" stroke="#1F78B4"/><line x1="743.5" y1="111.7" x2="822.6" y2="111.7" stroke="#1F78B4"/><line x1="732.9" y1="113.7" x2="821.6" y2="113.7" stroke="#1F78B4"/><line x1="753.2" y1="115.8" x2="836.5" y2="115.8" stroke="#1F78B4"/><line x1="742.1" y1="117.9" x2="820.0" y2="117.9" stroke="#1F78B4"/><line x1="745.4" y1="119.9" x2="836.0" y2="119.9" stroke="#1F78B4"/><line x1="747.7" y1="122.0" x2="834.4" y2="122.0" stroke="#1F78B4"/><line x1="746.9" y1="124.1" x2="850.9" y2="124.1" stroke="#1F78B4"/><line x1="766.5" y1="126.2" x2="839.7" y2="126.2" stroke="#1F78B4"/><line x1="769.4" y1="128.2" x2="857.1" y2="128.2" stroke="#1F78B4"/><line x1="768.5" y1="129.9" x2="885.0" y2="129.9" stroke="#1F78B4"/><line x1="788.5" y1="131.4" x2="932.0" y2="131.4" stroke="#1F78B4"/><line x1="710.4" y1="133.0" x2="836.3" y2="133.0" stroke="#B2DF8A"/><line x1="758.9" y1="134.9" x2="837.4" y2="134.9" stroke="#B2DF8A"/><line x1="669.3" y1="136.5" x2="763.0" y2="136.5" stroke="#33A02C"/><line x1="655.0" y1="137.6" x2="779.1" y2="137.6" stroke="#33A02C"/><line x1="684.4" y1="139.7" x2="768.7" y2="139.7" stroke="#33A02C"/><line x1="686.8" y1="141.7" x2="774.5" y2="141.7" stroke="#33A02C"/><line x1="692.2" y1="143.8" x2="783.6" y2="143.8" stroke="#33A02C"/><line x1="695.5" y1="145.8" x2="792.4" y2="145.8" stroke="#33A02C"/><line x1="702.1" y1="147.8" x2="784.3" y2="147.8" stroke="#33A02C"/><line x1="700.4" y1="149.8" x2="789.8" y2="149.8" stroke="#33A02C"/><line x1="703.7" y1="152.0" x2="798.8" y2="152.0" stroke="#33A02C"/><line x1="721.0" y1="154.1" x2="802.2" y2="154.1" stroke="#33A02C"/><line x1="684.8" y1="156.3" x2="806.9" y2="156.3" stroke="#33A02C"/><line x1="717.6" y1="158.5" x2="817.4" y2="158.5" stroke="#33A02C"/><line x1="739.3" y1="160.6" x2="823.3" y2="160.6" stroke="#33A02C"/><line x1="721.5" y1="162.8" x2="826.2" y2="162.8" stroke="#33A02C"/><line x1="726.4" y1="164.7" x2="810.6" y2="164.7" stroke="#33A02C"/><line x1="742.3" y1="166.6" x2="827.2" y2="166.6" stroke="#33A02C"/><line x1="737.7" y1="168.5" x2="814.9" y2="168.5" stroke="#33A02C"/><line x1="743.3" y1="170.1" x2="884.7" y2="170.1" stroke="#33A02C"/><line x1="779.2" y1="171.3" x2="885.5" y2="171.3" stroke="#33A02C"/><line x1="814.6" y1="173.4" x2="915.2" y2="173.4" stroke="#33A02C"/><line x1="636.5" y1="174.2" x2="778.4" y2="174.2" stroke="#FB9A99"/><line x1="674.9" y1="175.5" x2="802.6" y2="175.5" stroke="#FB9A99"/><line x1="664.8" y1="177.8" x2="808.6" y2="177.8" stroke="#FB9A99"/><line x1="690.2" y1="179.9" x2="806.5" y2="179.9" stroke="#FB9A99"/><line x1="646.4" y1="181.6" x2="763.4" y2="181.6" stroke="#E31A1C"/><line x1="644.1" y1="183.2" x2="771.7" y2="183.2" stroke="#E31A1C"/><line x1="671.6" y1="184.5" x2="800.4" y2="184.5" stroke="#E31A1C"/><line x1="660.7" y1="186.4" x2="755.4" y2="186.4" stroke="#FDBF6F"/><line x1="676.7" y1="187.3" x2="787.2" y2="187.3" stroke="#FDBF6F"/><line x1="672.3" y1="188.9" x2="765.0" y2="188.9" stroke="#FDBF6F"/><line x1="685.6" y1="190.8" x2="794.0" y2="190.8" stroke="#FDBF6F"/><line x1="695.8" y1="192.5" x2="774.8" y2="192.5" stroke="#FDBF6F"/><line x1="731.2" y1="194.6" x2="848.2" y2="194.6" stroke="#FF7F00"/><line x1="742.2" y1="196.2" x2="864.9" y2="196.2" stroke="#FF7F00"/><line x1="790.9" y1="197.9" x2="889.6" y2="197.9" stroke="#FF7F00"/><line x1="701.7" y1="199.0" x2="825.3" y2="199.0" stroke="#CAB2D6"/><line x1="651.8" y1="200.6" x2="780.8" y2="200.6" stroke="#6A3D9A"/><line x1="687.0" y1="202.3" x2="740.0" y2="202.3" stroke="#000000"/><line x1="667.8" y1="204.0" x2="778.7" y2="204.0" stroke="#A52A2A"/><line x1="722.9" y1="205.7" x2="839.6" y2="205.7" stroke="#A52A2A"/><line x1="710.4" y1="206.8" x2="833.3" y2="206.8" stroke="#A52A2A"/><line x1="719.9" y1="208.1" x2="844.7" y2="208.1" stroke="#A52A2A"/><line x1="739.2" y1="210.4" x2="871.2" y2="210.4" stroke="#A52A2A"/><line x1="744.9" y1="211.7" x2="856.0" y2="211.7" stroke="#A52A2A"/><line x1="739.6" y1="213.3" x2="858.9" y2="213.3" stroke="#A52A2A"/><line x1="712.2" y1="215.3" x2="854.1" y2="215.3" stroke="#7FFF00"/><line x1="731.7" y1="216.9" x2="833.0" y2="216.9" stroke="#7FFF00"/><line x1="729.2" y1="218.6" x2="845.1" y2="218.6" stroke="#7FFF00"/><line x1="748.5" y1="219.9" x2="865.2" y2="219.9" stroke="#7FFF00"/><line x1="680.0" y1="221.8" x2="799.7" y2="221.8" stroke="#00FFFF"/><line x1="705.1" y1="223.4" x2="799.0" y2="223.4" stroke="#00FFFF"/><line x1="725.7" y1="224.7" x2="829.4" y2="224.7" stroke="#00FFFF"/><line x1="749.6" y1="226.4" x2="867.5" y2="226.4" stroke="#00FFFF"/><line x1="791.1" y1="228.0" x2="879.4" y2="228.0" stroke="#00FFFF"/><line x1="711.9" y1="230.0" x2="803.8" y2="230.0" stroke="#FFB90F"/><line x1="742.1" y1="232.1" x2="840.8" y2="232.1" stroke="#FFB90F"/><line x1="719.8" y1="233.7" x2="828.4" y2="233.7" stroke="#FFB90F"/><line x1="752.5" y1="236.2" x2="852.9" y2="236.2" stroke="#FFB90F"/><line x1="649.9" y1="238.3" x2="775.6" y2="238.3" stroke="#8B0000"/><line x1="684.1" y1="239.3" x2="784.9" y2="239.3" stroke="#8B0000"/><line x1="695.8" y1="241.6" x2="786.7" y2="241.6" stroke="#8B0000"/><line x1="662.3" y1="243.9" x2="786.6" y2="243.9" stroke="#8B0000"/><line x1="680.7" y1="246.1" x2="763.3" y2="246.1" stroke="#8B0000"/><line x1="700.3" y1="248.4" x2="782.9" y2="248.4" stroke="#8B0000"/><line x1="657.1" y1="250.7" x2="785.4" y2="250.7" stroke="#8B0000"/><line x1="709.8" y1="252.8" x2="790.1" y2="252.8" stroke="#8B0000"/><line x1="704.6" y1="255.0" x2="780.4" y2="255.0" stroke="#8B0000"/><line x1="697.7" y1="257.3" x2="795.4" y2="257.3" stroke="#8B0000"/><line x1="718.9" y1="259.5" x2="796.6" y2="259.5" stroke="#8B0000"/><line x1="708.6" y1="261.7" x2="790.8" y2="261.7" stroke="#8B0000"/><line x1="716.3" y1="263.9" x2="804.4" y2="263.9" stroke="#8B0000"/><line x1="708.9" y1="266.2" x2="803.2" y2="266.2" stroke="#8B0000"/><line x1="728.1" y1="268.4" x2="814.0" y2="268.4" stroke="#8B0000"/><line x1="725.0" y1="270.5" x2="803.9" y2="270.5" stroke="#8B0000"/><line x1="729.0" y1="272.5" x2="822.4" y2="272.5" stroke="#8B0000"/><line x1="731.4" y1="274.6" x2="812.6" y2="274.6" stroke="#8B0000"/><line x1="739.8" y1="276.8" x2="825.9" y2="276.8" stroke="#8B0000"/><line x1="747.0" y1="279.1" x2="823.3" y2="279.1" stroke="#8B0000"/><line x1="733.3" y1="281.3" x2="827.5" y2="281.3" stroke="#8B0000"/><line x1="711.6" y1="283.5" x2="824.4" y2="283.5" stroke="#8B0000"/><line x1="729.7" y1="285.7" x2="857.5" y2="285.7" stroke="#8B0000"/><line x1="748.9" y1="288.0" x2="817.4" y2="288.0" stroke="#8B0000"/><line x1="750.8" y1="290.2" x2="842.8" y2="290.2" stroke="#8B0000"/><line x1="745.1" y1="292.3" x2="826.2" y2="292.3" stroke="#8B0000"/><line x1="740.5" y1="294.3" x2="827.9" y2="294.3" stroke="#8B0000"/><line x1="750.6" y1="296.4" x2="833.8" y2="296.4" stroke="#8B0000"/><line x1="745.8" y1="298.5" x2="827.7" y2="298.5" stroke="#8B0000"/><line x1="740.8" y1="300.5" x2="832.3" y2="300.5" stroke="#8B0000"/><line x1="757.4" y1="302.6" x2="843.1" y2="302.6" stroke="#8B0000"/><line x1="747.8" y1="304.7" x2="848.8" y2="304.7" stroke="#8B0000"/><line x1="757.7" y1="306.8" x2="840.2" y2="306.8" stroke="#8B0000"/><line x1="766.2" y1="308.8" x2="844.8" y2="308.8" stroke="#8B0000"/><line x1="756.5" y1="310.9" x2="841.2" y2="310.9" stroke="#8B0000"/><line x1="749.5" y1="313.0" x2="839.8" y2="313.0" stroke="#8B0000"/><line x1="749.8" y1="315.1" x2="853.7" y2="315.1" stroke="#8B0000"/><line x1="730.9" y1="317.1" x2="844.0" y2="317.1" stroke="#8B0000"/><line x1="771.2" y1="319.2" x2="845.5" y2="319.2" stroke="#8B0000"/><line x1="766.8" y1="321.3" x2="856.7" y2="321.3" stroke="#8B0000"/><line x1="765.5" y1="323.4" x2="849.3" y2="323.4" stroke="#8B0000"/><line x1="786.4" y1="325.4" x2="886.4" y2="325.4" stroke="#8B0000"/><line x1="775.8" y1="327.5" x2="877.9" y2="327.5" stroke="#8B0000"/><line x1="771.6" y1="329.6" x2="879.7" y2="329.6" stroke="#8B0000"/><line x1="768.8" y1="331.6" x2="881.7" y2="331.6" stroke="#8B0000"/><line x1="773.0" y1="333.7" x2="874.1" y2="333.7" stroke="#8B0000"/><line x1="778.7" y1="335.8" x2="865.9" y2="335.8" stroke="#8B0000"/><line x1="798.5" y1="337.9" x2="879.7" y2="337.9" stroke="#8B0000"/><line x1="777.6" y1="339.9" x2="875.7" y2="339.9" stroke="#8B0000"/><line x1="801.1" y1="342.0" x2="873.4" y2="342.0" stroke="#8B0000"/><line x1="807.0" y1="344.1" x2="918.7" y2="344.1" stroke="#8B0000"/><line x1="792.2" y1="346.2" x2="883.2" y2="346.2" stroke="#8B0000"/><line x1="809.7" y1="348.3" x2="905.5" y2="348.3" stroke="#8B0000"/><line x1="816.4" y1="349.3" x2="943.7" y2="349.3" stroke="#8B0000"/><line x1="829.2" y1="352.4" x2="914.4" y2="352.4" stroke="#8B0000"/><line x1="542.0" y1="354.5" x2="737.0" y2="354.5" stroke="#2F4F4F"/><line x1="660.3" y1="355.5" x2="777.3" y2="355.5" stroke="#FF1493"/><line x1="723.5" y1="357.6" x2="820.8" y2="357.6" stroke="#FF1493"/><line x1="731.8" y1="359.7" x2="854.3" y2="359.7" stroke="#FF1493"/><line x1="722.4" y1="361.1" x2="848.3" y2="361.1" stroke="#FF1493"/><line x1="751.7" y1="361.7" x2="871.0" y2="361.7" stroke="#FF1493"/><line x1="739.8" y1="363.8" x2="884.1" y2="363.8" stroke="#FF1493"/><line x1="737.5" y1="365.9" x2="872.9" y2="365.9" stroke="#FF1493"/><line x1="688.0" y1="367.3" x2="824.0" y2="367.3" stroke="#E9967A"/><line x1="746.6" y1="369.0" x2="849.6" y2="369.0" stroke="#E9967A"/></g><line x1="707.5" y1="67" x2="707.5" y2="381.5" stroke="#707070" stroke-width="1"/></g><g clip-path="url(#c3)"><g stroke="#222" stroke-width="0.6"><circle cx="207.9" cy="533.5" r="5.3" fill="#A6CEE3"/><circle cx="212.0" cy="534.9" r="5.3" fill="#A6CEE3"/><circle cx="222.4" cy="536.6" r="5.3" fill="#A6CEE3"/><circle cx="227.6" cy="538.3" r="5.3" fill="#A6CEE3"/><circle cx="232.8" cy="540.7" r="5.3" fill="#A6CEE3"/><circle cx="244.4" cy="542.4" r="5.3" fill="#A6CEE3"/><circle cx="246.4" cy="543.5" r="5.3" fill="#A6CEE3"/><circle cx="246.9" cy="544.6" r="5.3" fill="#A6CEE3"/><circle cx="248.6" cy="545.7" r="5.3" fill="#A6CEE3"/><circle cx="249.7" cy="546.8" r="5.3" fill="#A6CEE3"/><circle cx="249.1" cy="547.8" r="5.3" fill="#A6CEE3"/><circle cx="250.0" cy="548.9" r="5.3" fill="#A6CEE3"/><circle cx="253.5" cy="550.0" r="5.3" fill="#A6CEE3"/><circle cx="252.8" cy="551.1" r="5.3" fill="#A6CEE3"/><circle cx="253.7" cy="552.1" r="5.3" fill="#A6CEE3"/><circle cx="257.1" cy="553.2" r="5.3" fill="#A6CEE3"/><circle cx="256.5" cy="554.2" r="5.3" fill="#A6CEE3"/><circle cx="258.7" cy="555.2" r="5.3" fill="#A6CEE3"/><circle cx="258.6" cy="556.3" r="5.3" fill="#A6CEE3"/><circle cx="260.1" cy="557.3" r="5.3" fill="#A6CEE3"/><circle cx="259.7" cy="558.4" r="5.3" fill="#A6CEE3"/><circle cx="262.2" cy="559.4" r="5.3" fill="#A6CEE3"/><circle cx="263.8" cy="560.6" r="5.3" fill="#A6CEE3"/><circle cx="263.7" cy="561.7" r="5.3" fill="#A6CEE3"/><circle cx="265.3" cy="562.9" r="5.3" fill="#A6CEE3"/><circle cx="266.0" cy="564.0" r="5.3" fill="#A6CEE3"/><circle cx="265.1" cy="565.2" r="5.3" fill="#A6CEE3"/><circle cx="268.1" cy="566.3" r="5.3" fill="#A6CEE3"/><circle cx="268.5" cy="567.5" r="5.3" fill="#A6CEE3"/><circle cx="268.6" cy="568.6" r="5.3" fill="#A6CEE3"/><circle cx="268.7" cy="569.8" r="5.3" fill="#A6CEE3"/><circle cx="271.9" cy="571.0" r="5.3" fill="#A6CEE3"/><circle cx="271.4" cy="572.1" r="5.3" fill="#A6CEE3"/><circle cx="272.8" cy="573.3" r="5.3" fill="#A6CEE3"/><circle cx="274.0" cy="574.4" r="5.3" fill="#A6CEE3"/><circle cx="274.2" cy="575.6" r="5.3" fill="#A6CEE3"/><circle cx="275.5" cy="576.7" r="5.3" fill="#A6CEE3"/><circle cx="274.6" cy="577.9" r="5.3" fill="#A6CEE3"/><circle cx="276.5" cy="579.0" r="5.3" fill="#A6CEE3"/><circle cx="276.1" cy="580.2" r="5.3" fill="#A6CEE3"/><circle cx="278.9" cy="581.4" r="5.3" fill="#A6CEE3"/><circle cx="280.0" cy="582.5" r="5.3" fill="#A6CEE3"/><circle cx="279.0" cy="583.7" r="5.3" fill="#A6CEE3"/><circle cx="280.4" cy="584.9" r="5.3" fill="#A6CEE3"/><circle cx="282.0" cy="586.0" r="5.3" fill="#A6CEE3"/><circle cx="285.5" cy="587.2" r="5.3" fill="#A6CEE3"/><circle cx="285.2" cy="588.3" r="5.3" fill="#A6CEE3"/><circle cx="287.1" cy="589.5" r="5.3" fill="#A6CEE3"/><circle cx="288.2" cy="590.5" r="5.3" fill="#A6CEE3"/><circle cx="290.9" cy="591.6" r="5.3" fill="#A6CEE3"/><circle cx="292.6" cy="592.7" r="5.3" fill="#A6CEE3"/><circle cx="294.6" cy="593.7" r="5.3" fill="#A6CEE3"/><circle cx="297.8" cy="594.7" r="5.3" fill="#A6CEE3"/><circle cx="300.4" cy="595.7" r="5.3" fill="#A6CEE3"/><circle cx="303.9" cy="596.7" r="5.3" fill="#A6CEE3"/><circle cx="308.3" cy="597.7" r="5.3" fill="#A6CEE3"/><circle cx="314.2" cy="598.7" r="5.3" fill="#A6CEE3"/><circle cx="349.1" cy="600.0" r="5.3" fill="#A6CEE3"/><circle cx="216.0" cy="601.3" r="5.3" fill="#1F78B4"/><circle cx="218.0" cy="603.3" r="5.3" fill="#1F78B4"/><circle cx="224.7" cy="604.4" r="5.3" fill="#1F78B4"/><circle cx="230.0" cy="606.0" r="5.3" fill="#1F78B4"/><circle cx="241.3" cy="607.3" r="5.3" fill="#1F78B4"/><circle cx="243.3" cy="610.0" r="5.3" fill="#1F78B4"/><circle cx="250.0" cy="613.3" r="5.3" fill="#1F78B4"/><circle cx="261.3" cy="614.7" r="5.3" fill="#1F78B4"/><circle cx="264.0" cy="618.7" r="5.3" fill="#1F78B4"/><circle cx="266.7" cy="621.3" r="5.3" fill="#1F78B4"/><circle cx="282.0" cy="622.7" r="5.3" fill="#1F78B4"/><circle cx="285.3" cy="625.3" r="5.3" fill="#1F78B4"/><circle cx="288.0" cy="628.7" r="5.3" fill="#1F78B4"/><circle cx="296.1" cy="629.3" r="5.3" fill="#1F78B4"/><circle cx="313.3" cy="631.0" r="5.3" fill="#1F78B4"/><circle cx="313.5" cy="633.0" r="5.3" fill="#1F78B4"/><circle cx="329.3" cy="634.0" r="5.3" fill="#1F78B4"/><circle cx="200.3" cy="636.0" r="5.3" fill="#B2DF8A"/><circle cx="259.6" cy="637.3" r="5.3" fill="#B2DF8A"/><circle cx="267.1" cy="639.3" r="5.3" fill="#B2DF8A"/><circle cx="275.3" cy="640.4" r="5.3" fill="#B2DF8A"/><circle cx="287.6" cy="642.0" r="5.3" fill="#33A02C"/><circle cx="312.0" cy="643.1" r="5.3" fill="#33A02C"/><circle cx="318.7" cy="644.7" r="5.3" fill="#33A02C"/><circle cx="327.3" cy="646.7" r="5.3" fill="#33A02C"/><circle cx="291.6" cy="648.7" r="5.3" fill="#FB9A99"/><circle cx="306.7" cy="650.0" r="5.3" fill="#FB9A99"/><circle cx="310.7" cy="651.6" r="5.3" fill="#FB9A99"/><circle cx="312.7" cy="652.7" r="5.3" fill="#FB9A99"/><circle cx="320.7" cy="655.1" r="5.3" fill="#FB9A99"/><circle cx="254.9" cy="656.0" r="5.3" fill="#FF7F00"/><circle cx="284.3" cy="657.6" r="5.3" fill="#FF7F00"/><circle cx="178.7" cy="659.4" r="5.3" fill="#000000"/><circle cx="260.4" cy="660.7" r="5.3" fill="#000000"/><circle cx="360.7" cy="662.7" r="5.3" fill="#7FFF00"/><circle cx="301.7" cy="664.0" r="5.3" fill="#00FFFF"/><circle cx="351.3" cy="665.3" r="5.3" fill="#00FFFF"/><circle cx="240.7" cy="667.1" r="5.3" fill="#FFB90F"/><circle cx="253.3" cy="668.7" r="5.3" fill="#FFB90F"/><circle cx="256.7" cy="670.0" r="5.3" fill="#FFB90F"/><circle cx="287.3" cy="671.3" r="5.3" fill="#FFB90F"/><circle cx="291.3" cy="672.9" r="5.3" fill="#FFB90F"/><circle cx="295.3" cy="674.7" r="5.3" fill="#FFB90F"/><circle cx="196.7" cy="676.3" r="5.3" fill="#8B0000"/><circle cx="211.3" cy="677.7" r="5.3" fill="#8B0000"/><circle cx="216.7" cy="679.7" r="5.3" fill="#8B0000"/><circle cx="222.7" cy="681.3" r="5.3" fill="#8B0000"/><circle cx="231.3" cy="682.3" r="5.3" fill="#8B0000"/><circle cx="234.7" cy="684.3" r="5.3" fill="#8B0000"/><circle cx="245.3" cy="687.0" r="5.3" fill="#8B0000"/><circle cx="257.1" cy="690.3" r="5.3" fill="#8B0000"/><circle cx="257.9" cy="691.3" r="5.3" fill="#8B0000"/><circle cx="257.4" cy="692.4" r="5.3" fill="#8B0000"/><circle cx="256.3" cy="693.4" r="5.3" fill="#8B0000"/><circle cx="258.9" cy="694.5" r="5.3" fill="#8B0000"/><circle cx="259.6" cy="695.5" r="5.3" fill="#8B0000"/><circle cx="259.9" cy="696.6" r="5.3" fill="#8B0000"/><circle cx="259.3" cy="697.6" r="5.3" fill="#8B0000"/><circle cx="260.2" cy="698.7" r="5.3" fill="#8B0000"/><circle cx="259.1" cy="699.7" r="5.3" fill="#8B0000"/><circle cx="262.1" cy="700.8" r="5.3" fill="#8B0000"/><circle cx="262.5" cy="702.0" r="5.3" fill="#8B0000"/><circle cx="262.8" cy="703.1" r="5.3" fill="#8B0000"/><circle cx="263.3" cy="704.3" r="5.3" fill="#8B0000"/><circle cx="266.8" cy="705.4" r="5.3" fill="#8B0000"/><circle cx="268.3" cy="706.6" r="5.3" fill="#8B0000"/><circle cx="266.8" cy="707.7" r="5.3" fill="#8B0000"/><circle cx="270.1" cy="708.9" r="5.3" fill="#8B0000"/><circle cx="270.1" cy="710.0" r="5.3" fill="#8B0000"/><circle cx="270.4" cy="711.2" r="5.3" fill="#8B0000"/><circle cx="272.0" cy="712.4" r="5.3" fill="#8B0000"/><circle cx="274.6" cy="713.5" r="5.3" fill="#8B0000"/><circle cx="276.1" cy="714.7" r="5.3" fill="#8B0000"/><circle cx="274.8" cy="715.8" r="5.3" fill="#8B0000"/><circle cx="277.6" cy="717.0" r="5.3" fill="#8B0000"/><circle cx="278.3" cy="718.1" r="5.3" fill="#8B0000"/><circle cx="282.8" cy="719.1" r="5.3" fill="#8B0000"/><circle cx="284.0" cy="720.2" r="5.3" fill="#8B0000"/><circle cx="288.0" cy="721.2" r="5.3" fill="#8B0000"/><circle cx="290.7" cy="722.3" r="5.3" fill="#8B0000"/><circle cx="290.4" cy="723.4" r="5.3" fill="#8B0000"/><circle cx="293.0" cy="724.5" r="5.3" fill="#8B0000"/><circle cx="292.1" cy="725.6" r="5.3" fill="#8B0000"/><circle cx="292.5" cy="726.8" r="5.3" fill="#8B0000"/><circle cx="295.2" cy="727.9" r="5.3" fill="#8B0000"/><circle cx="294.6" cy="729.0" r="5.3" fill="#8B0000"/><circle cx="295.9" cy="730.1" r="5.3" fill="#8B0000"/><circle cx="297.3" cy="731.1" r="5.3" fill="#8B0000"/><circle cx="298.7" cy="732.2" r="5.3" fill="#8B0000"/><circle cx="298.2" cy="733.3" r="5.3" fill="#8B0000"/><circle cx="298.6" cy="734.4" r="5.3" fill="#8B0000"/><circle cx="301.9" cy="735.4" r="5.3" fill="#8B0000"/><circle cx="301.0" cy="736.5" r="5.3" fill="#8B0000"/><circle cx="303.8" cy="737.6" r="5.3" fill="#8B0000"/><circle cx="304.4" cy="738.6" r="5.3" fill="#8B0000"/><circle cx="303.6" cy="739.7" r="5.3" fill="#8B0000"/><circle cx="305.0" cy="740.9" r="5.3" fill="#8B0000"/><circle cx="306.4" cy="742.0" r="5.3" fill="#8B0000"/><circle cx="307.9" cy="743.2" r="5.3" fill="#8B0000"/><circle cx="308.9" cy="744.4" r="5.3" fill="#8B0000"/><circle cx="310.0" cy="745.5" r="5.3" fill="#8B0000"/><circle cx="311.3" cy="746.7" r="5.3" fill="#8B0000"/><circle cx="313.5" cy="747.8" r="5.3" fill="#8B0000"/><circle cx="313.3" cy="749.0" r="5.3" fill="#8B0000"/><circle cx="314.1" cy="750.1" r="5.3" fill="#8B0000"/><circle cx="315.9" cy="751.2" r="5.3" fill="#8B0000"/><circle cx="315.4" cy="752.3" r="5.3" fill="#8B0000"/><circle cx="316.6" cy="753.4" r="5.3" fill="#8B0000"/><circle cx="319.6" cy="754.6" r="5.3" fill="#8B0000"/><circle cx="319.2" cy="755.7" r="5.3" fill="#8B0000"/><circle cx="320.2" cy="756.8" r="5.3" fill="#8B0000"/><circle cx="319.6" cy="757.9" r="5.3" fill="#8B0000"/><circle cx="321.7" cy="759.0" r="5.3" fill="#8B0000"/><circle cx="323.1" cy="760.1" r="5.3" fill="#8B0000"/><circle cx="322.3" cy="761.2" r="5.3" fill="#8B0000"/><circle cx="324.9" cy="762.3" r="5.3" fill="#8B0000"/><circle cx="325.8" cy="763.4" r="5.3" fill="#8B0000"/><circle cx="324.9" cy="764.5" r="5.3" fill="#8B0000"/><circle cx="327.5" cy="765.5" r="5.3" fill="#8B0000"/><circle cx="327.8" cy="766.6" r="5.3" fill="#8B0000"/><circle cx="329.3" cy="767.7" r="5.3" fill="#8B0000"/><circle cx="329.2" cy="768.8" r="5.3" fill="#8B0000"/><circle cx="331.1" cy="769.9" r="5.3" fill="#8B0000"/><circle cx="335.4" cy="771.0" r="5.3" fill="#8B0000"/><circle cx="337.4" cy="772.0" r="5.3" fill="#8B0000"/><circle cx="339.1" cy="773.0" r="5.3" fill="#8B0000"/><circle cx="342.6" cy="774.0" r="5.3" fill="#8B0000"/><circle cx="345.2" cy="775.1" r="5.3" fill="#8B0000"/><circle cx="344.7" cy="776.1" r="5.3" fill="#8B0000"/><circle cx="347.0" cy="777.1" r="5.3" fill="#8B0000"/><circle cx="378.2" cy="778.2" r="5.3" fill="#8B0000"/><circle cx="386.5" cy="781.3" r="5.3" fill="#8B0000"/><circle cx="393.8" cy="783.8" r="5.3" fill="#8B0000"/><circle cx="198.1" cy="785.4" r="5.3" fill="#2F4F4F"/><circle cx="253.1" cy="787.1" r="5.3" fill="#2F4F4F"/><circle cx="284.9" cy="790.0" r="5.3" fill="#2F4F4F"/><circle cx="293.2" cy="791.2" r="5.3" fill="#2F4F4F"/><circle cx="351.2" cy="792.7" r="5.3" fill="#2F4F4F"/><circle cx="226.1" cy="794.8" r="5.3" fill="#FF1493"/><circle cx="243.0" cy="796.2" r="5.3" fill="#FF1493"/><circle cx="253.7" cy="797.9" r="5.3" fill="#FF1493"/><circle cx="266.2" cy="800.0" r="5.3" fill="#FF1493"/><circle cx="268.3" cy="801.0" r="5.3" fill="#FF1493"/><circle cx="281.7" cy="802.4" r="5.3" fill="#FF1493"/><circle cx="286.9" cy="804.1" r="5.3" fill="#FF1493"/><circle cx="293.2" cy="805.8" r="5.3" fill="#FF1493"/><circle cx="297.3" cy="807.2" r="5.3" fill="#FF1493"/><circle cx="302.5" cy="810.3" r="5.3" fill="#FF1493"/><circle cx="340.5" cy="812.8" r="5.3" fill="#FF1493"/><circle cx="271.4" cy="814.5" r="5.3" fill="#E9967A"/><circle cx="273.4" cy="816.6" r="5.3" fill="#E9967A"/><circle cx="278.6" cy="819.7" r="5.3" fill="#E9967A"/><circle cx="305.6" cy="821.1" r="5.3" fill="#E9967A"/><circle cx="365.1" cy="822.2" r="5.3" fill="#E9967A"/></g><g stroke-width="1.1" stroke-opacity="0.42"><line x1="140.1" y1="533.5" x2="267.5" y2="533.5" stroke="#A6CEE3"/><line x1="150.9" y1="534.9" x2="279.9" y2="534.9" stroke="#A6CEE3"/><line x1="149.2" y1="536.6" x2="273.2" y2="536.6" stroke="#A6CEE3"/><line x1="168.3" y1="538.3" x2="284.3" y2="538.3" stroke="#A6CEE3"/><line x1="177.2" y1="540.7" x2="295.9" y2="540.7" stroke="#A6CEE3"/><line x1="193.9" y1="542.4" x2="296.9" y2="542.4" stroke="#A6CEE3"/><line x1="177.3" y1="544.6" x2="293.2" y2="544.6" stroke="#A6CEE3"/><line x1="178.4" y1="546.8" x2="305.1" y2="546.8" stroke="#A6CEE3"/><line x1="192.9" y1="548.9" x2="298.1" y2="548.9" stroke="#A6CEE3"/><line x1="207.1" y1="551.1" x2="303.3" y2="551.1" stroke="#A6CEE3"/><line x1="187.4" y1="553.2" x2="307.7" y2="553.2" stroke="#A6CEE3"/><line x1="189.9" y1="555.2" x2="307.1" y2="555.2" stroke="#A6CEE3"/><line x1="205.0" y1="557.3" x2="314.1" y2="557.3" stroke="#A6CEE3"/><line x1="221.6" y1="559.4" x2="334.8" y2="559.4" stroke="#A6CEE3"/><line x1="208.3" y1="561.5" x2="336.7" y2="561.5" stroke="#A6CEE3"/><line x1="199.0" y1="563.6" x2="334.4" y2="563.6" stroke="#A6CEE3"/><line x1="216.7" y1="565.6" x2="339.5" y2="565.6" stroke="#A6CEE3"/><line x1="207.8" y1="567.7" x2="338.5" y2="567.7" stroke="#A6CEE3"/><line x1="198.5" y1="569.8" x2="334.4" y2="569.8" stroke="#A6CEE3"/><line x1="171.3" y1="571.9" x2="331.5" y2="571.9" stroke="#A6CEE3"/><line x1="226.6" y1="574.0" x2="323.1" y2="574.0" stroke="#A6CEE3"/><line x1="219.3" y1="576.0" x2="346.7" y2="576.0" stroke="#A6CEE3"/><line x1="226.2" y1="578.1" x2="345.2" y2="578.1" stroke="#A6CEE3"/><line x1="224.0" y1="580.2" x2="323.2" y2="580.2" stroke="#A6CEE3"/><line x1="232.9" y1="582.5" x2="346.6" y2="582.5" stroke="#A6CEE3"/><line x1="212.7" y1="584.9" x2="321.8" y2="584.9" stroke="#A6CEE3"/><line x1="242.4" y1="587.2" x2="333.6" y2="587.2" stroke="#A6CEE3"/><line x1="231.9" y1="589.5" x2="365.9" y2="589.5" stroke="#A6CEE3"/><line x1="248.9" y1="591.6" x2="353.1" y2="591.6" stroke="#A6CEE3"/><line x1="191.2" y1="593.7" x2="364.9" y2="593.7" stroke="#A6CEE3"/><line x1="251.6" y1="596.7" x2="353.7" y2="596.7" stroke="#A6CEE3"/><line x1="252.4" y1="598.7" x2="365.5" y2="598.7" stroke="#A6CEE3"/><line x1="309.8" y1="600.0" x2="403.5" y2="600.0" stroke="#A6CEE3"/><line x1="172.8" y1="601.3" x2="263.1" y2="601.3" stroke="#1F78B4"/><line x1="146.7" y1="603.3" x2="273.2" y2="603.3" stroke="#1F78B4"/><line x1="167.4" y1="604.4" x2="279.6" y2="604.4" stroke="#1F78B4"/><line x1="173.2" y1="606.0" x2="297.8" y2="606.0" stroke="#1F78B4"/><line x1="155.3" y1="607.3" x2="309.1" y2="607.3" stroke="#1F78B4"/><line x1="186.3" y1="610.0" x2="318.5" y2="610.0" stroke="#1F78B4"/><line x1="110.0" y1="613.3" x2="330.0" y2="613.3" stroke="#1F78B4"/><line x1="216.4" y1="614.7" x2="333.8" y2="614.7" stroke="#1F78B4"/><line x1="192.3" y1="618.7" x2="330.7" y2="618.7" stroke="#1F78B4"/><line x1="204.9" y1="621.3" x2="330.2" y2="621.3" stroke="#1F78B4"/><line x1="182.6" y1="622.7" x2="340.5" y2="622.7" stroke="#1F78B4"/><line x1="180.0" y1="625.3" x2="332.5" y2="625.3" stroke="#1F78B4"/><line x1="243.1" y1="628.7" x2="361.8" y2="628.7" stroke="#1F78B4"/><line x1="218.0" y1="629.3" x2="384.5" y2="629.3" stroke="#1F78B4"/><line x1="242.6" y1="631.0" x2="373.8" y2="631.0" stroke="#1F78B4"/><line x1="215.6" y1="633.0" x2="390.9" y2="633.0" stroke="#1F78B4"/><line x1="266.7" y1="634.0" x2="402.4" y2="634.0" stroke="#1F78B4"/><line x1="152.8" y1="636.0" x2="258.8" y2="636.0" stroke="#B2DF8A"/><line x1="208.6" y1="637.3" x2="311.5" y2="637.3" stroke="#B2DF8A"/><line x1="224.6" y1="639.3" x2="322.1" y2="639.3" stroke="#B2DF8A"/><line x1="212.9" y1="640.4" x2="320.1" y2="640.4" stroke="#B2DF8A"/><line x1="227.4" y1="642.0" x2="343.1" y2="642.0" stroke="#33A02C"/><line x1="218.3" y1="643.1" x2="356.5" y2="643.1" stroke="#33A02C"/><line x1="251.2" y1="644.7" x2="374.2" y2="644.7" stroke="#33A02C"/><line x1="281.7" y1="646.7" x2="375.3" y2="646.7" stroke="#33A02C"/><line x1="242.2" y1="648.7" x2="338.6" y2="648.7" stroke="#FB9A99"/><line x1="257.8" y1="650.0" x2="367.9" y2="650.0" stroke="#FB9A99"/><line x1="253.2" y1="651.6" x2="377.9" y2="651.6" stroke="#FB9A99"/><line x1="258.3" y1="652.7" x2="364.2" y2="652.7" stroke="#FB9A99"/><line x1="271.0" y1="655.1" x2="383.9" y2="655.1" stroke="#FB9A99"/><line x1="200.5" y1="656.0" x2="312.9" y2="656.0" stroke="#FF7F00"/><line x1="219.7" y1="657.6" x2="341.0" y2="657.6" stroke="#FF7F00"/><line x1="79.0" y1="659.4" x2="262.0" y2="659.4" stroke="#000000"/><line x1="218.0" y1="660.7" x2="304.0" y2="660.7" stroke="#000000"/><line x1="266.9" y1="662.7" x2="468.6" y2="662.7" stroke="#7FFF00"/><line x1="230.3" y1="664.0" x2="377.2" y2="664.0" stroke="#00FFFF"/><line x1="239.8" y1="665.3" x2="465.3" y2="665.3" stroke="#00FFFF"/><line x1="189.7" y1="667.1" x2="317.4" y2="667.1" stroke="#FFB90F"/><line x1="210.1" y1="668.7" x2="322.5" y2="668.7" stroke="#FFB90F"/><line x1="172.3" y1="670.0" x2="320.3" y2="670.0" stroke="#FFB90F"/><line x1="232.0" y1="671.3" x2="344.3" y2="671.3" stroke="#FFB90F"/><line x1="217.9" y1="672.9" x2="345.0" y2="672.9" stroke="#FFB90F"/><line x1="245.7" y1="674.7" x2="358.6" y2="674.7" stroke="#FFB90F"/><line x1="124.4" y1="676.3" x2="244.6" y2="676.3" stroke="#8B0000"/><line x1="143.1" y1="677.7" x2="279.0" y2="677.7" stroke="#8B0000"/><line x1="152.1" y1="679.7" x2="285.9" y2="679.7" stroke="#8B0000"/><line x1="148.9" y1="681.3" x2="287.9" y2="681.3" stroke="#8B0000"/><line x1="171.5" y1="682.3" x2="286.9" y2="682.3" stroke="#8B0000"/><line x1="172.7" y1="684.3" x2="285.2" y2="684.3" stroke="#8B0000"/><line x1="194.9" y1="687.0" x2="317.0" y2="687.0" stroke="#8B0000"/><line x1="178.4" y1="690.3" x2="305.9" y2="690.3" stroke="#8B0000"/><line x1="191.1" y1="692.6" x2="321.4" y2="692.6" stroke="#8B0000"/><line x1="179.7" y1="695.0" x2="309.2" y2="695.0" stroke="#8B0000"/><line x1="187.6" y1="697.4" x2="323.0" y2="697.4" stroke="#8B0000"/><line x1="205.7" y1="699.7" x2="341.8" y2="699.7" stroke="#8B0000"/><line x1="199.3" y1="701.7" x2="315.7" y2="701.7" stroke="#8B0000"/><line x1="207.3" y1="703.7" x2="323.1" y2="703.7" stroke="#8B0000"/><line x1="208.6" y1="705.7" x2="340.6" y2="705.7" stroke="#8B0000"/><line x1="219.5" y1="707.7" x2="316.9" y2="707.7" stroke="#8B0000"/><line x1="218.9" y1="710.0" x2="321.9" y2="710.0" stroke="#8B0000"/><line x1="199.1" y1="712.4" x2="343.9" y2="712.4" stroke="#8B0000"/><line x1="216.0" y1="714.7" x2="326.8" y2="714.7" stroke="#8B0000"/><line x1="225.2" y1="717.0" x2="352.6" y2="717.0" stroke="#8B0000"/><line x1="210.2" y1="719.6" x2="359.5" y2="719.6" stroke="#8B0000"/><line x1="225.0" y1="722.3" x2="354.7" y2="722.3" stroke="#8B0000"/><line x1="222.5" y1="724.5" x2="347.0" y2="724.5" stroke="#8B0000"/><line x1="201.3" y1="726.8" x2="364.2" y2="726.8" stroke="#8B0000"/><line x1="227.8" y1="729.0" x2="358.2" y2="729.0" stroke="#8B0000"/><line x1="225.1" y1="731.1" x2="361.1" y2="731.1" stroke="#8B0000"/><line x1="231.6" y1="733.3" x2="359.7" y2="733.3" stroke="#8B0000"/><line x1="224.6" y1="735.4" x2="350.5" y2="735.4" stroke="#8B0000"/><line x1="255.6" y1="737.6" x2="383.0" y2="737.6" stroke="#8B0000"/><line x1="240.1" y1="739.7" x2="381.5" y2="739.7" stroke="#8B0000"/><line x1="237.0" y1="742.0" x2="356.0" y2="742.0" stroke="#8B0000"/><line x1="231.2" y1="744.4" x2="378.7" y2="744.4" stroke="#8B0000"/><line x1="237.7" y1="746.7" x2="388.6" y2="746.7" stroke="#8B0000"/><line x1="241.8" y1="749.0" x2="400.1" y2="749.0" stroke="#8B0000"/><line x1="267.3" y1="751.0" x2="367.1" y2="751.0" stroke="#8B0000"/><line x1="247.3" y1="753.0" x2="380.6" y2="753.0" stroke="#8B0000"/><line x1="262.9" y1="755.0" x2="379.8" y2="755.0" stroke="#8B0000"/><line x1="268.9" y1="757.0" x2="396.7" y2="757.0" stroke="#8B0000"/><line x1="264.0" y1="759.0" x2="385.5" y2="759.0" stroke="#8B0000"/><line x1="278.6" y1="761.2" x2="376.0" y2="761.2" stroke="#8B0000"/><line x1="264.3" y1="763.4" x2="377.2" y2="763.4" stroke="#8B0000"/><line x1="244.3" y1="765.5" x2="378.0" y2="765.5" stroke="#8B0000"/><line x1="257.6" y1="767.7" x2="415.8" y2="767.7" stroke="#8B0000"/><line x1="269.8" y1="769.9" x2="413.5" y2="769.9" stroke="#8B0000"/><line x1="256.0" y1="772.0" x2="397.7" y2="772.0" stroke="#8B0000"/><line x1="290.3" y1="774.5" x2="391.2" y2="774.5" stroke="#8B0000"/><line x1="280.3" y1="777.1" x2="427.1" y2="777.1" stroke="#8B0000"/><line x1="323.6" y1="778.2" x2="423.7" y2="778.2" stroke="#8B0000"/><line x1="327.8" y1="781.3" x2="432.5" y2="781.3" stroke="#8B0000"/><line x1="337.5" y1="783.8" x2="467.4" y2="783.8" stroke="#8B0000"/><line x1="127.6" y1="785.4" x2="308.8" y2="785.4" stroke="#2F4F4F"/><line x1="202.2" y1="787.1" x2="326.9" y2="787.1" stroke="#2F4F4F"/><line x1="233.3" y1="790.0" x2="354.5" y2="790.0" stroke="#2F4F4F"/><line x1="214.0" y1="791.2" x2="357.5" y2="791.2" stroke="#2F4F4F"/><line x1="273.0" y1="792.7" x2="402.2" y2="792.7" stroke="#2F4F4F"/><line x1="153.0" y1="794.8" x2="269.2" y2="794.8" stroke="#FF1493"/><line x1="199.0" y1="796.2" x2="296.6" y2="796.2" stroke="#FF1493"/><line x1="181.2" y1="797.9" x2="299.8" y2="797.9" stroke="#FF1493"/><line x1="197.0" y1="800.0" x2="325.6" y2="800.0" stroke="#FF1493"/><line x1="213.8" y1="801.0" x2="316.3" y2="801.0" stroke="#FF1493"/><line x1="232.3" y1="802.4" x2="327.6" y2="802.4" stroke="#FF1493"/><line x1="222.0" y1="804.1" x2="340.4" y2="804.1" stroke="#FF1493"/><line x1="228.3" y1="805.8" x2="334.0" y2="805.8" stroke="#FF1493"/><line x1="233.6" y1="807.2" x2="340.7" y2="807.2" stroke="#FF1493"/><line x1="240.0" y1="810.3" x2="373.2" y2="810.3" stroke="#FF1493"/><line x1="269.1" y1="812.8" x2="406.2" y2="812.8" stroke="#FF1493"/><line x1="229.2" y1="814.5" x2="323.4" y2="814.5" stroke="#E9967A"/><line x1="193.5" y1="816.6" x2="316.7" y2="816.6" stroke="#E9967A"/><line x1="231.4" y1="819.7" x2="320.1" y2="819.7" stroke="#E9967A"/><line x1="248.0" y1="821.1" x2="345.9" y2="821.1" stroke="#E9967A"/><line x1="318.5" y1="822.2" x2="422.0" y2="822.2" stroke="#E9967A"/></g><line x1="226.5" y1="520.9" x2="226.5" y2="835.25" stroke="#707070" stroke-width="1"/></g><g clip-path="url(#c4)"><g stroke="#222" stroke-width="0.6"><circle cx="712.3" cy="533.5" r="5.3" fill="#A6CEE3"/><circle cx="714.2" cy="534.5" r="5.3" fill="#A6CEE3"/><circle cx="717.4" cy="535.5" r="5.3" fill="#A6CEE3"/><circle cx="719.0" cy="536.6" r="5.3" fill="#A6CEE3"/><circle cx="721.1" cy="537.6" r="5.3" fill="#A6CEE3"/><circle cx="726.3" cy="538.6" r="5.3" fill="#A6CEE3"/><circle cx="732.0" cy="539.7" r="5.3" fill="#A6CEE3"/><circle cx="735.8" cy="540.7" r="5.3" fill="#A6CEE3"/><circle cx="739.8" cy="541.8" r="5.3" fill="#A6CEE3"/><circle cx="742.3" cy="542.8" r="5.3" fill="#A6CEE3"/><circle cx="747.4" cy="543.9" r="5.3" fill="#A6CEE3"/><circle cx="748.1" cy="544.9" r="5.3" fill="#A6CEE3"/><circle cx="749.3" cy="546.0" r="5.3" fill="#A6CEE3"/><circle cx="750.6" cy="547.0" r="5.3" fill="#A6CEE3"/><circle cx="752.4" cy="548.0" r="5.3" fill="#A6CEE3"/><circle cx="756.0" cy="549.0" r="5.3" fill="#A6CEE3"/><circle cx="757.2" cy="550.1" r="5.3" fill="#A6CEE3"/><circle cx="758.6" cy="551.1" r="5.3" fill="#A6CEE3"/><circle cx="759.4" cy="552.1" r="5.3" fill="#A6CEE3"/><circle cx="758.3" cy="553.2" r="5.3" fill="#A6CEE3"/><circle cx="759.5" cy="554.2" r="5.3" fill="#A6CEE3"/><circle cx="761.2" cy="555.2" r="5.3" fill="#A6CEE3"/><circle cx="762.3" cy="556.3" r="5.3" fill="#A6CEE3"/><circle cx="763.4" cy="557.3" r="5.3" fill="#A6CEE3"/><circle cx="764.3" cy="558.4" r="5.3" fill="#A6CEE3"/><circle cx="762.7" cy="559.4" r="5.3" fill="#A6CEE3"/><circle cx="766.0" cy="560.4" r="5.3" fill="#A6CEE3"/><circle cx="767.9" cy="561.5" r="5.3" fill="#A6CEE3"/><circle cx="769.1" cy="562.5" r="5.3" fill="#A6CEE3"/><circle cx="769.9" cy="563.5" r="5.3" fill="#A6CEE3"/><circle cx="772.5" cy="564.6" r="5.3" fill="#A6CEE3"/><circle cx="773.1" cy="565.6" r="5.3" fill="#A6CEE3"/><circle cx="776.7" cy="566.6" r="5.3" fill="#A6CEE3"/><circle cx="777.7" cy="567.7" r="5.3" fill="#A6CEE3"/><circle cx="777.9" cy="568.7" r="5.3" fill="#A6CEE3"/><circle cx="778.3" cy="569.8" r="5.3" fill="#A6CEE3"/><circle cx="781.2" cy="570.8" r="5.3" fill="#A6CEE3"/><circle cx="781.4" cy="571.9" r="5.3" fill="#A6CEE3"/><circle cx="783.5" cy="572.9" r="5.3" fill="#A6CEE3"/><circle cx="784.5" cy="574.0" r="5.3" fill="#A6CEE3"/><circle cx="784.6" cy="575.0" r="5.3" fill="#A6CEE3"/><circle cx="785.8" cy="576.0" r="5.3" fill="#A6CEE3"/><circle cx="787.9" cy="577.1" r="5.3" fill="#A6CEE3"/><circle cx="788.9" cy="578.1" r="5.3" fill="#A6CEE3"/><circle cx="789.5" cy="579.1" r="5.3" fill="#A6CEE3"/><circle cx="791.4" cy="580.1" r="5.3" fill="#A6CEE3"/><circle cx="794.5" cy="581.2" r="5.3" fill="#A6CEE3"/><circle cx="793.6" cy="582.2" r="5.3" fill="#A6CEE3"/><circle cx="794.7" cy="583.4" r="5.3" fill="#A6CEE3"/><circle cx="797.5" cy="584.5" r="5.3" fill="#A6CEE3"/><circle cx="797.5" cy="585.7" r="5.3" fill="#A6CEE3"/><circle cx="799.3" cy="586.8" r="5.3" fill="#A6CEE3"/><circle cx="800.1" cy="588.0" r="5.3" fill="#A6CEE3"/><circle cx="800.8" cy="589.1" r="5.3" fill="#A6CEE3"/><circle cx="803.8" cy="590.3" r="5.3" fill="#A6CEE3"/><circle cx="802.4" cy="591.4" r="5.3" fill="#A6CEE3"/><circle cx="804.1" cy="592.6" r="5.3" fill="#A6CEE3"/><circle cx="808.7" cy="593.7" r="5.3" fill="#A6CEE3"/><circle cx="815.1" cy="594.7" r="5.3" fill="#A6CEE3"/><circle cx="816.3" cy="595.7" r="5.3" fill="#A6CEE3"/><circle cx="818.8" cy="596.8" r="5.3" fill="#A6CEE3"/><circle cx="822.3" cy="597.8" r="5.3" fill="#A6CEE3"/><circle cx="823.3" cy="598.9" r="5.3" fill="#A6CEE3"/><circle cx="826.3" cy="599.9" r="5.3" fill="#A6CEE3"/><circle cx="689.6" cy="600.9" r="5.3" fill="#1F78B4"/><circle cx="693.4" cy="604.0" r="5.3" fill="#1F78B4"/><circle cx="702.1" cy="605.1" r="5.3" fill="#1F78B4"/><circle cx="719.3" cy="607.1" r="5.3" fill="#1F78B4"/><circle cx="731.1" cy="608.2" r="5.3" fill="#1F78B4"/><circle cx="743.3" cy="609.2" r="5.3" fill="#1F78B4"/><circle cx="744.7" cy="610.2" r="5.3" fill="#1F78B4"/><circle cx="748.4" cy="611.3" r="5.3" fill="#1F78B4"/><circle cx="752.7" cy="612.3" r="5.3" fill="#1F78B4"/><circle cx="757.1" cy="613.3" r="5.3" fill="#1F78B4"/><circle cx="759.5" cy="614.4" r="5.3" fill="#1F78B4"/><circle cx="761.3" cy="615.5" r="5.3" fill="#1F78B4"/><circle cx="764.4" cy="616.5" r="5.3" fill="#1F78B4"/><circle cx="767.6" cy="617.5" r="5.3" fill="#1F78B4"/><circle cx="772.1" cy="618.5" r="5.3" fill="#1F78B4"/><circle cx="773.9" cy="619.5" r="5.3" fill="#1F78B4"/><circle cx="779.0" cy="620.6" r="5.3" fill="#1F78B4"/><circle cx="781.7" cy="621.6" r="5.3" fill="#1F78B4"/><circle cx="783.9" cy="622.7" r="5.3" fill="#1F78B4"/><circle cx="785.3" cy="623.7" r="5.3" fill="#1F78B4"/><circle cx="788.1" cy="624.7" r="5.3" fill="#1F78B4"/><circle cx="787.4" cy="625.8" r="5.3" fill="#1F78B4"/><circle cx="790.3" cy="626.8" r="5.3" fill="#1F78B4"/><circle cx="796.4" cy="627.8" r="5.3" fill="#1F78B4"/><circle cx="800.0" cy="628.9" r="5.3" fill="#1F78B4"/><circle cx="816.8" cy="630.0" r="5.3" fill="#1F78B4"/><circle cx="823.0" cy="632.0" r="5.3" fill="#1F78B4"/><circle cx="786.4" cy="633.5" r="5.3" fill="#B2DF8A"/><circle cx="797.8" cy="635.4" r="5.3" fill="#B2DF8A"/><circle cx="816.3" cy="636.1" r="5.3" fill="#B2DF8A"/><circle cx="882.4" cy="638.5" r="5.3" fill="#B2DF8A"/><circle cx="802.5" cy="640.1" r="5.3" fill="#33A02C"/><circle cx="808.4" cy="641.8" r="5.3" fill="#33A02C"/><circle cx="817.9" cy="643.0" r="5.3" fill="#33A02C"/><circle cx="823.4" cy="644.4" r="5.3" fill="#33A02C"/><circle cx="844.0" cy="645.4" r="5.3" fill="#33A02C"/><circle cx="877.2" cy="646.8" r="5.3" fill="#33A02C"/><circle cx="906.3" cy="648.4" r="5.3" fill="#33A02C"/><circle cx="717.7" cy="649.6" r="5.3" fill="#FB9A99"/><circle cx="771.7" cy="650.8" r="5.3" fill="#FB9A99"/><circle cx="786.4" cy="652.5" r="5.3" fill="#FB9A99"/><circle cx="809.6" cy="653.9" r="5.3" fill="#FB9A99"/><circle cx="816.3" cy="655.1" r="5.3" fill="#FB9A99"/><circle cx="828.1" cy="656.7" r="5.3" fill="#FB9A99"/><circle cx="744.9" cy="657.9" r="5.3" fill="#FF7F00"/><circle cx="798.2" cy="659.1" r="5.3" fill="#FF7F00"/><circle cx="782.4" cy="660.3" r="5.3" fill="#6A3D9A"/><circle cx="647.7" cy="662.2" r="5.3" fill="#000000"/><circle cx="708.9" cy="663.1" r="5.3" fill="#000000"/><circle cx="845.2" cy="664.6" r="5.3" fill="#7FFF00"/><circle cx="845.2" cy="666.2" r="5.3" fill="#7FFF00"/><circle cx="819.8" cy="667.4" r="5.3" fill="#00FFFF"/><circle cx="885.9" cy="668.6" r="5.3" fill="#00FFFF"/><circle cx="725.5" cy="670.2" r="5.3" fill="#FFB90F"/><circle cx="758.7" cy="671.7" r="5.3" fill="#FFB90F"/><circle cx="763.4" cy="672.9" r="5.3" fill="#FFB90F"/><circle cx="769.3" cy="674.5" r="5.3" fill="#FFB90F"/><circle cx="803.7" cy="675.7" r="5.3" fill="#FFB90F"/><circle cx="689.2" cy="676.9" r="5.3" fill="#8B0000"/><circle cx="710.1" cy="678.1" r="5.3" fill="#8B0000"/><circle cx="714.8" cy="679.7" r="5.3" fill="#8B0000"/><circle cx="719.5" cy="681.6" r="5.3" fill="#8B0000"/><circle cx="731.4" cy="682.8" r="5.3" fill="#8B0000"/><circle cx="742.1" cy="684.0" r="5.3" fill="#8B0000"/><circle cx="749.9" cy="692.6" r="5.3" fill="#8B0000"/><circle cx="760.3" cy="693.9" r="5.3" fill="#8B0000"/><circle cx="763.1" cy="695.1" r="5.3" fill="#8B0000"/><circle cx="767.5" cy="696.4" r="5.3" fill="#8B0000"/><circle cx="768.0" cy="697.7" r="5.3" fill="#8B0000"/><circle cx="769.8" cy="698.9" r="5.3" fill="#8B0000"/><circle cx="772.6" cy="700.2" r="5.3" fill="#8B0000"/><circle cx="772.8" cy="701.3" r="5.3" fill="#8B0000"/><circle cx="774.6" cy="702.3" r="5.3" fill="#8B0000"/><circle cx="777.4" cy="703.4" r="5.3" fill="#8B0000"/><circle cx="776.6" cy="704.5" r="5.3" fill="#8B0000"/><circle cx="776.8" cy="705.6" r="5.3" fill="#8B0000"/><circle cx="777.9" cy="706.6" r="5.3" fill="#8B0000"/><circle cx="779.4" cy="707.7" r="5.3" fill="#8B0000"/><circle cx="782.2" cy="708.8" r="5.3" fill="#8B0000"/><circle cx="781.9" cy="709.9" r="5.3" fill="#8B0000"/><circle cx="782.6" cy="711.0" r="5.3" fill="#8B0000"/><circle cx="782.9" cy="712.2" r="5.3" fill="#8B0000"/><circle cx="786.5" cy="713.3" r="5.3" fill="#8B0000"/><circle cx="785.8" cy="714.4" r="5.3" fill="#8B0000"/><circle cx="786.1" cy="715.5" r="5.3" fill="#8B0000"/><circle cx="786.6" cy="716.6" r="5.3" fill="#8B0000"/><circle cx="787.0" cy="717.6" r="5.3" fill="#8B0000"/><circle cx="787.8" cy="718.7" r="5.3" fill="#8B0000"/><circle cx="789.7" cy="719.8" r="5.3" fill="#8B0000"/><circle cx="788.6" cy="720.8" r="5.3" fill="#8B0000"/><circle cx="788.7" cy="721.9" r="5.3" fill="#8B0000"/><circle cx="790.5" cy="722.9" r="5.3" fill="#8B0000"/><circle cx="791.2" cy="723.9" r="5.3" fill="#8B0000"/><circle cx="795.0" cy="724.9" r="5.3" fill="#8B0000"/><circle cx="793.9" cy="725.9" r="5.3" fill="#8B0000"/><circle cx="796.6" cy="726.9" r="5.3" fill="#8B0000"/><circle cx="798.8" cy="727.9" r="5.3" fill="#8B0000"/><circle cx="798.8" cy="729.0" r="5.3" fill="#8B0000"/><circle cx="801.6" cy="730.1" r="5.3" fill="#8B0000"/><circle cx="801.2" cy="731.2" r="5.3" fill="#8B0000"/><circle cx="801.6" cy="732.2" r="5.3" fill="#8B0000"/><circle cx="803.2" cy="733.3" r="5.3" fill="#8B0000"/><circle cx="803.1" cy="734.4" r="5.3" fill="#8B0000"/><circle cx="805.4" cy="735.5" r="5.3" fill="#8B0000"/><circle cx="805.9" cy="736.6" r="5.3" fill="#8B0000"/><circle cx="808.9" cy="737.6" r="5.3" fill="#8B0000"/><circle cx="809.8" cy="738.7" r="5.3" fill="#8B0000"/><circle cx="809.9" cy="739.8" r="5.3" fill="#8B0000"/><circle cx="809.6" cy="740.9" r="5.3" fill="#8B0000"/><circle cx="811.3" cy="741.9" r="5.3" fill="#8B0000"/><circle cx="812.3" cy="743.0" r="5.3" fill="#8B0000"/><circle cx="814.2" cy="744.0" r="5.3" fill="#8B0000"/><circle cx="816.3" cy="745.0" r="5.3" fill="#8B0000"/><circle cx="820.3" cy="746.0" r="5.3" fill="#8B0000"/><circle cx="820.1" cy="747.0" r="5.3" fill="#8B0000"/><circle cx="821.9" cy="748.0" r="5.3" fill="#8B0000"/><circle cx="832.1" cy="749.5" r="5.3" fill="#8B0000"/><circle cx="831.6" cy="750.5" r="5.3" fill="#8B0000"/><circle cx="833.5" cy="751.5" r="5.3" fill="#8B0000"/><circle cx="832.4" cy="752.5" r="5.3" fill="#8B0000"/><circle cx="834.5" cy="753.6" r="5.3" fill="#8B0000"/><circle cx="834.3" cy="754.6" r="5.3" fill="#8B0000"/><circle cx="835.4" cy="755.6" r="5.3" fill="#8B0000"/><circle cx="836.0" cy="756.7" r="5.3" fill="#8B0000"/><circle cx="835.9" cy="757.8" r="5.3" fill="#8B0000"/><circle cx="835.5" cy="758.9" r="5.3" fill="#8B0000"/><circle cx="836.5" cy="759.9" r="5.3" fill="#8B0000"/><circle cx="839.3" cy="761.0" r="5.3" fill="#8B0000"/><circle cx="840.1" cy="762.1" r="5.3" fill="#8B0000"/><circle cx="840.9" cy="763.2" r="5.3" fill="#8B0000"/><circle cx="840.0" cy="764.3" r="5.3" fill="#8B0000"/><circle cx="841.9" cy="765.3" r="5.3" fill="#8B0000"/><circle cx="843.2" cy="766.4" r="5.3" fill="#8B0000"/><circle cx="843.6" cy="767.5" r="5.3" fill="#8B0000"/><circle cx="845.0" cy="768.6" r="5.3" fill="#8B0000"/><circle cx="845.1" cy="769.6" r="5.3" fill="#8B0000"/><circle cx="846.4" cy="770.7" r="5.3" fill="#8B0000"/><circle cx="848.6" cy="772.0" r="5.3" fill="#8B0000"/><circle cx="849.4" cy="773.2" r="5.3" fill="#8B0000"/><circle cx="853.5" cy="774.5" r="5.3" fill="#8B0000"/><circle cx="859.2" cy="775.8" r="5.3" fill="#8B0000"/><circle cx="862.2" cy="777.0" r="5.3" fill="#8B0000"/><circle cx="880.4" cy="779.5" r="5.3" fill="#8B0000"/><circle cx="891.8" cy="780.8" r="5.3" fill="#8B0000"/><circle cx="744.9" cy="782.2" r="5.3" fill="#2F4F4F"/><circle cx="761.8" cy="783.3" r="5.3" fill="#2F4F4F"/><circle cx="762.9" cy="785.6" r="5.3" fill="#2F4F4F"/><circle cx="773.8" cy="786.7" r="5.3" fill="#2F4F4F"/><circle cx="802.2" cy="787.8" r="5.3" fill="#2F4F4F"/><circle cx="807.8" cy="789.3" r="5.3" fill="#2F4F4F"/><circle cx="813.3" cy="791.1" r="5.3" fill="#2F4F4F"/><circle cx="825.1" cy="793.3" r="5.3" fill="#2F4F4F"/><circle cx="738.9" cy="795.1" r="5.3" fill="#FF1493"/><circle cx="751.1" cy="796.0" r="5.3" fill="#FF1493"/><circle cx="753.3" cy="797.8" r="5.3" fill="#FF1493"/><circle cx="768.9" cy="798.9" r="5.3" fill="#FF1493"/><circle cx="773.3" cy="800.0" r="5.3" fill="#FF1493"/><circle cx="777.8" cy="801.8" r="5.3" fill="#FF1493"/><circle cx="795.6" cy="802.7" r="5.3" fill="#FF1493"/><circle cx="800.0" cy="804.4" r="5.3" fill="#FF1493"/><circle cx="804.4" cy="806.2" r="5.3" fill="#FF1493"/><circle cx="808.9" cy="808.2" r="5.3" fill="#FF1493"/><circle cx="821.8" cy="810.0" r="5.3" fill="#FF1493"/><circle cx="841.1" cy="811.1" r="5.3" fill="#FF1493"/><circle cx="856.7" cy="812.2" r="5.3" fill="#FF1493"/><circle cx="868.4" cy="814.0" r="5.3" fill="#FF1493"/><circle cx="768.9" cy="815.6" r="5.3" fill="#E9967A"/><circle cx="793.3" cy="816.7" r="5.3" fill="#E9967A"/><circle cx="797.8" cy="818.2" r="5.3" fill="#E9967A"/><circle cx="801.8" cy="820.0" r="5.3" fill="#E9967A"/><circle cx="860.0" cy="821.1" r="5.3" fill="#E9967A"/><circle cx="902.9" cy="822.2" r="5.3" fill="#E9967A"/></g><g stroke-width="1.1" stroke-opacity="0.42"><line x1="624.3" y1="533.5" x2="837.0" y2="533.5" stroke="#A6CEE3"/><line x1="631.8" y1="535.5" x2="772.9" y2="535.5" stroke="#A6CEE3"/><line x1="670.0" y1="537.6" x2="779.1" y2="537.6" stroke="#A6CEE3"/><line x1="655.0" y1="540.7" x2="856.8" y2="540.7" stroke="#A6CEE3"/><line x1="660.4" y1="543.9" x2="797.8" y2="543.9" stroke="#A6CEE3"/><line x1="668.4" y1="546.3" x2="832.1" y2="546.3" stroke="#A6CEE3"/><line x1="669.1" y1="548.7" x2="812.3" y2="548.7" stroke="#A6CEE3"/><line x1="672.0" y1="551.1" x2="838.6" y2="551.1" stroke="#A6CEE3"/><line x1="708.2" y1="553.2" x2="810.6" y2="553.2" stroke="#A6CEE3"/><line x1="676.2" y1="555.2" x2="835.1" y2="555.2" stroke="#A6CEE3"/><line x1="649.4" y1="557.3" x2="833.3" y2="557.3" stroke="#A6CEE3"/><line x1="680.8" y1="559.4" x2="817.3" y2="559.4" stroke="#A6CEE3"/><line x1="685.9" y1="561.5" x2="829.8" y2="561.5" stroke="#A6CEE3"/><line x1="682.2" y1="563.5" x2="824.6" y2="563.5" stroke="#A6CEE3"/><line x1="688.9" y1="565.6" x2="844.8" y2="565.6" stroke="#A6CEE3"/><line x1="695.8" y1="568.0" x2="829.6" y2="568.0" stroke="#A6CEE3"/><line x1="717.4" y1="570.3" x2="862.9" y2="570.3" stroke="#A6CEE3"/><line x1="725.3" y1="572.6" x2="867.0" y2="572.6" stroke="#A6CEE3"/><line x1="714.8" y1="575.0" x2="848.1" y2="575.0" stroke="#A6CEE3"/><line x1="709.6" y1="577.4" x2="838.3" y2="577.4" stroke="#A6CEE3"/><line x1="722.1" y1="579.8" x2="901.6" y2="579.8" stroke="#A6CEE3"/><line x1="735.2" y1="582.2" x2="878.9" y2="582.2" stroke="#A6CEE3"/><line x1="707.4" y1="584.3" x2="871.9" y2="584.3" stroke="#A6CEE3"/><line x1="736.2" y1="586.4" x2="885.3" y2="586.4" stroke="#A6CEE3"/><line x1="738.4" y1="588.4" x2="885.3" y2="588.4" stroke="#A6CEE3"/><line x1="734.8" y1="590.5" x2="858.1" y2="590.5" stroke="#A6CEE3"/><line x1="697.3" y1="592.6" x2="859.7" y2="592.6" stroke="#A6CEE3"/><line x1="732.3" y1="594.7" x2="871.8" y2="594.7" stroke="#A6CEE3"/><line x1="747.4" y1="597.3" x2="910.0" y2="597.3" stroke="#A6CEE3"/><line x1="760.0" y1="599.9" x2="913.5" y2="599.9" stroke="#A6CEE3"/><line x1="601.3" y1="600.9" x2="776.4" y2="600.9" stroke="#1F78B4"/><line x1="605.4" y1="604.0" x2="776.6" y2="604.0" stroke="#1F78B4"/><line x1="614.0" y1="605.1" x2="758.4" y2="605.1" stroke="#1F78B4"/><line x1="646.3" y1="607.1" x2="806.8" y2="607.1" stroke="#1F78B4"/><line x1="676.4" y1="608.2" x2="807.2" y2="608.2" stroke="#1F78B4"/><line x1="677.4" y1="609.2" x2="815.4" y2="609.2" stroke="#1F78B4"/><line x1="697.3" y1="612.3" x2="817.5" y2="612.3" stroke="#1F78B4"/><line x1="706.8" y1="614.4" x2="808.4" y2="614.4" stroke="#1F78B4"/><line x1="685.0" y1="616.5" x2="840.9" y2="616.5" stroke="#1F78B4"/><line x1="699.5" y1="618.5" x2="844.1" y2="618.5" stroke="#1F78B4"/><line x1="731.0" y1="620.6" x2="840.0" y2="620.6" stroke="#1F78B4"/><line x1="730.0" y1="623.7" x2="862.6" y2="623.7" stroke="#1F78B4"/><line x1="748.2" y1="626.8" x2="869.9" y2="626.8" stroke="#1F78B4"/><line x1="709.4" y1="628.9" x2="851.7" y2="628.9" stroke="#1F78B4"/><line x1="767.9" y1="630.0" x2="893.9" y2="630.0" stroke="#1F78B4"/><line x1="777.1" y1="632.0" x2="872.5" y2="632.0" stroke="#1F78B4"/><line x1="732.3" y1="633.5" x2="856.2" y2="633.5" stroke="#B2DF8A"/><line x1="723.8" y1="635.4" x2="854.4" y2="635.4" stroke="#B2DF8A"/><line x1="763.9" y1="636.1" x2="867.1" y2="636.1" stroke="#B2DF8A"/><line x1="830.9" y1="638.5" x2="952.0" y2="638.5" stroke="#B2DF8A"/><line x1="755.0" y1="640.1" x2="850.8" y2="640.1" stroke="#33A02C"/><line x1="756.4" y1="641.8" x2="856.4" y2="641.8" stroke="#33A02C"/><line x1="769.8" y1="643.0" x2="861.7" y2="643.0" stroke="#33A02C"/><line x1="751.8" y1="644.4" x2="865.5" y2="644.4" stroke="#33A02C"/><line x1="792.1" y1="645.4" x2="880.4" y2="645.4" stroke="#33A02C"/><line x1="825.7" y1="646.8" x2="915.4" y2="646.8" stroke="#33A02C"/><line x1="863.3" y1="648.4" x2="952.0" y2="648.4" stroke="#33A02C"/><line x1="661.6" y1="649.6" x2="774.0" y2="649.6" stroke="#FB9A99"/><line x1="712.4" y1="650.8" x2="843.8" y2="650.8" stroke="#FB9A99"/><line x1="729.0" y1="652.5" x2="869.4" y2="652.5" stroke="#FB9A99"/><line x1="722.8" y1="653.9" x2="897.1" y2="653.9" stroke="#FB9A99"/><line x1="732.9" y1="655.1" x2="889.8" y2="655.1" stroke="#FB9A99"/><line x1="741.6" y1="656.7" x2="890.3" y2="656.7" stroke="#FB9A99"/><line x1="676.9" y1="657.9" x2="796.0" y2="657.9" stroke="#FF7F00"/><line x1="722.5" y1="659.1" x2="868.1" y2="659.1" stroke="#FF7F00"/><line x1="729.9" y1="660.3" x2="829.2" y2="660.3" stroke="#6A3D9A"/><line x1="542.0" y1="662.2" x2="709.0" y2="662.2" stroke="#000000"/><line x1="657.0" y1="663.1" x2="737.0" y2="663.1" stroke="#000000"/><line x1="782.8" y1="664.6" x2="926.6" y2="664.6" stroke="#7FFF00"/><line x1="767.3" y1="666.2" x2="939.7" y2="666.2" stroke="#7FFF00"/><line x1="728.5" y1="667.4" x2="916.1" y2="667.4" stroke="#00FFFF"/><line x1="786.8" y1="668.6" x2="952.0" y2="668.6" stroke="#00FFFF"/><line x1="650.2" y1="670.2" x2="821.7" y2="670.2" stroke="#FFB90F"/><line x1="686.7" y1="671.7" x2="809.7" y2="671.7" stroke="#FFB90F"/><line x1="702.6" y1="672.9" x2="840.1" y2="672.9" stroke="#FFB90F"/><line x1="710.4" y1="674.5" x2="855.6" y2="674.5" stroke="#FFB90F"/><line x1="741.3" y1="675.7" x2="882.9" y2="675.7" stroke="#FFB90F"/><line x1="627.2" y1="676.9" x2="766.8" y2="676.9" stroke="#8B0000"/><line x1="615.6" y1="678.1" x2="767.1" y2="678.1" stroke="#8B0000"/><line x1="627.5" y1="679.7" x2="775.8" y2="679.7" stroke="#8B0000"/><line x1="644.4" y1="681.6" x2="803.2" y2="681.6" stroke="#8B0000"/><line x1="647.1" y1="682.8" x2="801.8" y2="682.8" stroke="#8B0000"/><line x1="680.6" y1="684.0" x2="828.7" y2="684.0" stroke="#8B0000"/><line x1="708.3" y1="692.6" x2="836.6" y2="692.6" stroke="#8B0000"/><line x1="714.3" y1="693.9" x2="819.5" y2="693.9" stroke="#8B0000"/><line x1="715.5" y1="696.4" x2="809.0" y2="696.4" stroke="#8B0000"/><line x1="707.9" y1="698.3" x2="813.3" y2="698.3" stroke="#8B0000"/><line x1="730.3" y1="700.2" x2="834.2" y2="700.2" stroke="#8B0000"/><line x1="699.0" y1="702.7" x2="835.3" y2="702.7" stroke="#8B0000"/><line x1="716.3" y1="705.2" x2="833.7" y2="705.2" stroke="#8B0000"/><line x1="718.8" y1="707.7" x2="824.9" y2="707.7" stroke="#8B0000"/><line x1="735.1" y1="709.9" x2="843.9" y2="709.9" stroke="#8B0000"/><line x1="722.4" y1="712.2" x2="827.9" y2="712.2" stroke="#8B0000"/><line x1="725.1" y1="714.4" x2="863.1" y2="714.4" stroke="#8B0000"/><line x1="728.0" y1="716.6" x2="843.4" y2="716.6" stroke="#8B0000"/><line x1="746.5" y1="718.7" x2="833.2" y2="718.7" stroke="#8B0000"/><line x1="737.6" y1="720.8" x2="841.5" y2="720.8" stroke="#8B0000"/><line x1="708.7" y1="722.9" x2="847.2" y2="722.9" stroke="#8B0000"/><line x1="749.4" y1="725.4" x2="839.5" y2="725.4" stroke="#8B0000"/><line x1="744.3" y1="727.9" x2="845.6" y2="727.9" stroke="#8B0000"/><line x1="739.8" y1="730.4" x2="844.7" y2="730.4" stroke="#8B0000"/><line x1="758.4" y1="733.0" x2="843.7" y2="733.0" stroke="#8B0000"/><line x1="749.5" y1="735.5" x2="890.5" y2="735.5" stroke="#8B0000"/><line x1="761.4" y1="738.0" x2="863.9" y2="738.0" stroke="#8B0000"/><line x1="762.3" y1="740.5" x2="860.8" y2="740.5" stroke="#8B0000"/><line x1="770.1" y1="743.0" x2="853.8" y2="743.0" stroke="#8B0000"/><line x1="768.9" y1="745.5" x2="860.7" y2="745.5" stroke="#8B0000"/><line x1="763.5" y1="748.0" x2="873.8" y2="748.0" stroke="#8B0000"/><line x1="786.8" y1="749.5" x2="884.3" y2="749.5" stroke="#8B0000"/><line x1="776.1" y1="751.5" x2="872.5" y2="751.5" stroke="#8B0000"/><line x1="790.2" y1="753.6" x2="874.2" y2="753.6" stroke="#8B0000"/><line x1="784.9" y1="755.6" x2="881.4" y2="755.6" stroke="#8B0000"/><line x1="788.6" y1="758.1" x2="891.1" y2="758.1" stroke="#8B0000"/><line x1="777.3" y1="760.7" x2="883.6" y2="760.7" stroke="#8B0000"/><line x1="787.6" y1="763.2" x2="887.6" y2="763.2" stroke="#8B0000"/><line x1="791.3" y1="765.7" x2="884.3" y2="765.7" stroke="#8B0000"/><line x1="782.1" y1="768.2" x2="887.0" y2="768.2" stroke="#8B0000"/><line x1="804.8" y1="770.7" x2="927.2" y2="770.7" stroke="#8B0000"/><line x1="788.3" y1="772.6" x2="906.3" y2="772.6" stroke="#8B0000"/><line x1="806.4" y1="774.5" x2="893.5" y2="774.5" stroke="#8B0000"/><line x1="818.9" y1="777.0" x2="913.9" y2="777.0" stroke="#8B0000"/><line x1="831.2" y1="779.5" x2="928.2" y2="779.5" stroke="#8B0000"/><line x1="861.7" y1="780.8" x2="932.4" y2="780.8" stroke="#8B0000"/><line x1="700.9" y1="782.2" x2="783.6" y2="782.2" stroke="#2F4F4F"/><line x1="713.5" y1="783.3" x2="797.5" y2="783.3" stroke="#2F4F4F"/><line x1="716.5" y1="785.6" x2="796.9" y2="785.6" stroke="#2F4F4F"/><line x1="703.8" y1="786.7" x2="804.0" y2="786.7" stroke="#2F4F4F"/><line x1="745.7" y1="787.8" x2="840.7" y2="787.8" stroke="#2F4F4F"/><line x1="764.4" y1="789.3" x2="850.4" y2="789.3" stroke="#2F4F4F"/><line x1="769.5" y1="791.1" x2="844.6" y2="791.1" stroke="#2F4F4F"/><line x1="793.0" y1="793.3" x2="870.3" y2="793.3" stroke="#2F4F4F"/><line x1="697.0" y1="795.1" x2="788.6" y2="795.1" stroke="#FF1493"/><line x1="714.3" y1="796.0" x2="810.0" y2="796.0" stroke="#FF1493"/><line x1="704.7" y1="797.8" x2="798.9" y2="797.8" stroke="#FF1493"/><line x1="714.9" y1="798.9" x2="817.0" y2="798.9" stroke="#FF1493"/><line x1="722.7" y1="800.0" x2="812.6" y2="800.0" stroke="#FF1493"/><line x1="729.2" y1="801.8" x2="827.3" y2="801.8" stroke="#FF1493"/><line x1="736.7" y1="802.7" x2="847.7" y2="802.7" stroke="#FF1493"/><line x1="753.7" y1="804.4" x2="843.3" y2="804.4" stroke="#FF1493"/><line x1="761.9" y1="806.2" x2="847.3" y2="806.2" stroke="#FF1493"/><line x1="766.6" y1="808.2" x2="853.1" y2="808.2" stroke="#FF1493"/><line x1="765.2" y1="810.0" x2="876.7" y2="810.0" stroke="#FF1493"/><line x1="801.7" y1="811.1" x2="893.5" y2="811.1" stroke="#FF1493"/><line x1="807.5" y1="812.2" x2="913.4" y2="812.2" stroke="#FF1493"/><line x1="819.5" y1="814.0" x2="909.0" y2="814.0" stroke="#FF1493"/><line x1="726.0" y1="815.6" x2="808.7" y2="815.6" stroke="#E9967A"/><line x1="752.5" y1="816.7" x2="844.8" y2="816.7" stroke="#E9967A"/><line x1="761.7" y1="818.2" x2="832.9" y2="818.2" stroke="#E9967A"/><line x1="752.1" y1="820.0" x2="848.0" y2="820.0" stroke="#E9967A"/><line x1="801.2" y1="821.1" x2="908.6" y2="821.1" stroke="#E9967A"/><line x1="852.7" y1="822.2" x2="949.4" y2="822.2" stroke="#E9967A"/></g><line x1="710.5" y1="520.9" x2="710.5" y2="835.25" stroke="#707070" stroke-width="1"/></g>
<rect x="61" y="1.5" width="430" height="62.900000000000006" fill="#fff" stroke="#1e1e1e" stroke-width="2"/><rect x="61" y="66.4" width="430" height="316.1" fill="none" stroke="#1e1e1e" stroke-width="2"/><text x="276.0" y="45.8" class="st">early successional, control</text><rect x="523.7" y="1.5" width="430.29999999999995" height="62.900000000000006" fill="#fff" stroke="#1e1e1e" stroke-width="2"/><rect x="523.7" y="66.4" width="430.29999999999995" height="316.1" fill="none" stroke="#1e1e1e" stroke-width="2"/><text x="738.9" y="45.8" class="st">early successional, warmed</text><rect x="61" y="455.25" width="430" height="62.85000000000002" fill="#fff" stroke="#1e1e1e" stroke-width="2"/><rect x="61" y="520.1" width="430" height="316.15" fill="none" stroke="#1e1e1e" stroke-width="2"/><text x="276.0" y="499.5" class="st">late successional, control</text><rect x="523.7" y="455.25" width="430.29999999999995" height="62.85000000000002" fill="#fff" stroke="#1e1e1e" stroke-width="2"/><rect x="523.7" y="520.1" width="430.29999999999995" height="316.15" fill="none" stroke="#1e1e1e" stroke-width="2"/><text x="738.9" y="499.5" class="st">late successional, warmed</text>
<line x1="98.2" y1="383.0" x2="98.2" y2="393.5" stroke="#1e1e1e" stroke-width="2.8"/><text transform="translate(98.2,428.3) scale(1,1.065)" class="tk">-0.4</text><line x1="195.2" y1="383.0" x2="195.2" y2="393.5" stroke="#1e1e1e" stroke-width="2.8"/><text transform="translate(195.2,428.3) scale(1,1.065)" class="tk">-0.2</text><line x1="292.2" y1="383.0" x2="292.2" y2="393.5" stroke="#1e1e1e" stroke-width="2.8"/><text transform="translate(292.2,428.3) scale(1,1.065)" class="tk">0</text><line x1="389.2" y1="383.0" x2="389.2" y2="393.5" stroke="#1e1e1e" stroke-width="2.8"/><text transform="translate(389.2,428.3) scale(1,1.065)" class="tk">0.2</text><line x1="486.2" y1="383.0" x2="486.2" y2="393.5" stroke="#1e1e1e" stroke-width="2.8"/><text transform="translate(486.2,428.3) scale(1,1.065)" class="tk">0.4</text><line x1="599.3" y1="383.0" x2="599.3" y2="393.5" stroke="#1e1e1e" stroke-width="2.8"/><text transform="translate(599.3,428.3) scale(1,1.065)" class="tk">-0.2</text><line x1="707.1" y1="383.0" x2="707.1" y2="393.5" stroke="#1e1e1e" stroke-width="2.8"/><text transform="translate(707.1,428.3) scale(1,1.065)" class="tk">0</text><line x1="814.9" y1="383.0" x2="814.9" y2="393.5" stroke="#1e1e1e" stroke-width="2.8"/><text transform="translate(814.9,428.3) scale(1,1.065)" class="tk">0.2</text><line x1="922.7" y1="383.0" x2="922.7" y2="393.5" stroke="#1e1e1e" stroke-width="2.8"/><text transform="translate(922.7,428.3) scale(1,1.065)" class="tk">0.4</text><line x1="98.7" y1="836.8" x2="98.7" y2="847.2" stroke="#1e1e1e" stroke-width="2.8"/><text transform="translate(98.7,881.8) scale(1,1.065)" class="tk">-0.25</text><line x1="226.1" y1="836.8" x2="226.1" y2="847.2" stroke="#1e1e1e" stroke-width="2.8"/><text transform="translate(226.1,881.8) scale(1,1.065)" class="tk">0</text><line x1="353.5" y1="836.8" x2="353.5" y2="847.2" stroke="#1e1e1e" stroke-width="2.8"/><text transform="translate(353.5,881.8) scale(1,1.065)" class="tk">0.25</text><line x1="480.9" y1="836.8" x2="480.9" y2="847.2" stroke="#1e1e1e" stroke-width="2.8"/><text transform="translate(480.9,881.8) scale(1,1.065)" class="tk">0.5</text><line x1="596.7" y1="836.8" x2="596.7" y2="847.2" stroke="#1e1e1e" stroke-width="2.8"/><text transform="translate(596.7,881.8) scale(1,1.065)" class="tk">-0.25</text><line x1="710.0" y1="836.8" x2="710.0" y2="847.2" stroke="#1e1e1e" stroke-width="2.8"/><text transform="translate(710.0,881.8) scale(1,1.065)" class="tk">0</text><line x1="823.3" y1="836.8" x2="823.3" y2="847.2" stroke="#1e1e1e" stroke-width="2.8"/><text transform="translate(823.3,881.8) scale(1,1.065)" class="tk">0.25</text><line x1="936.6" y1="836.8" x2="936.6" y2="847.2" stroke="#1e1e1e" stroke-width="2.8"/><text transform="translate(936.6,881.8) scale(1,1.065)" class="tk">0.5</text>
<text x="1016" y="156.3" class="ts">Phylum</text><circle cx="1023.6" cy="196.9" r="5.7" fill="#A6CEE3"/><text x="1051.5" y="209.9" class="lg">Acidobacteriota</text><circle cx="1023.6" cy="228.5" r="5.7" fill="#1F78B4"/><text x="1051.5" y="241.5" class="lg">Actinobacteriota</text><circle cx="1023.6" cy="260.1" r="5.7" fill="#B2DF8A"/><text x="1051.5" y="273.1" class="lg">Armatimonadota</text><circle cx="1023.6" cy="291.7" r="5.7" fill="#33A02C"/><text x="1051.5" y="304.7" class="lg">Bacteroidota</text><circle cx="1023.6" cy="323.3" r="5.7" fill="#FB9A99"/><text x="1051.5" y="336.3" class="lg">Bdellovibrionota</text><circle cx="1023.6" cy="354.9" r="5.7" fill="#E31A1C"/><text x="1051.5" y="367.9" class="lg">Caldisericota</text><circle cx="1023.6" cy="386.4" r="5.7" fill="#FDBF6F"/><text x="1051.5" y="399.4" class="lg">Chloroflexi</text><circle cx="1023.6" cy="418.0" r="5.7" fill="#FF7F00"/><text x="1051.5" y="431.0" class="lg">Cyanobacteria</text><circle cx="1023.6" cy="449.6" r="5.7" fill="#CAB2D6"/><text x="1051.5" y="462.6" class="lg">Deinococcota</text><circle cx="1023.6" cy="481.2" r="5.7" fill="#6A3D9A"/><text x="1051.5" y="494.2" class="lg">Dependentiae</text><circle cx="1023.6" cy="512.8" r="5.7" fill="#000000"/><text x="1051.5" y="525.8" class="lg">Firmicutes</text><circle cx="1023.6" cy="544.4" r="5.7" fill="#A52A2A"/><text x="1051.5" y="557.4" class="lg">Gemmatimonadota</text><circle cx="1023.6" cy="576.0" r="5.7" fill="#7FFF00"/><text x="1051.5" y="589.0" class="lg">Myxococcota</text><circle cx="1023.6" cy="607.6" r="5.7" fill="#00FFFF"/><text x="1051.5" y="620.6" class="lg">Patescibacteria</text><circle cx="1023.6" cy="639.2" r="5.7" fill="#FFB90F"/><text x="1051.5" y="652.2" class="lg">Planctomycetota</text><circle cx="1023.6" cy="670.8" r="5.7" fill="#8B0000"/><text x="1051.5" y="683.8" class="lg">Proteobacteria</text><circle cx="1023.6" cy="702.3" r="5.7" fill="#2F4F4F"/><text x="1051.5" y="715.3" class="lg">unassigned Bacteria</text><circle cx="1023.6" cy="733.9" r="5.7" fill="#FF1493"/><text x="1051.5" y="746.9" class="lg">Verrucomicrobiota</text><circle cx="1023.6" cy="765.5" r="5.7" fill="#E9967A"/><text x="1051.5" y="778.5" class="lg">WPS-2</text>
<text transform="translate(31,451.3) rotate(-90)" class="ti">Ranked taxon by phylum</text><text x="138.5" y="940.5" class="ts">Median</text><text x="275.6" y="919" class="sup">18</text><text x="317.7" y="940.5" class="ts">O</text><text x="372.5" y="940.5" class="ts">excess atom fraction (EAF)</text>
</svg>
</body></html>
